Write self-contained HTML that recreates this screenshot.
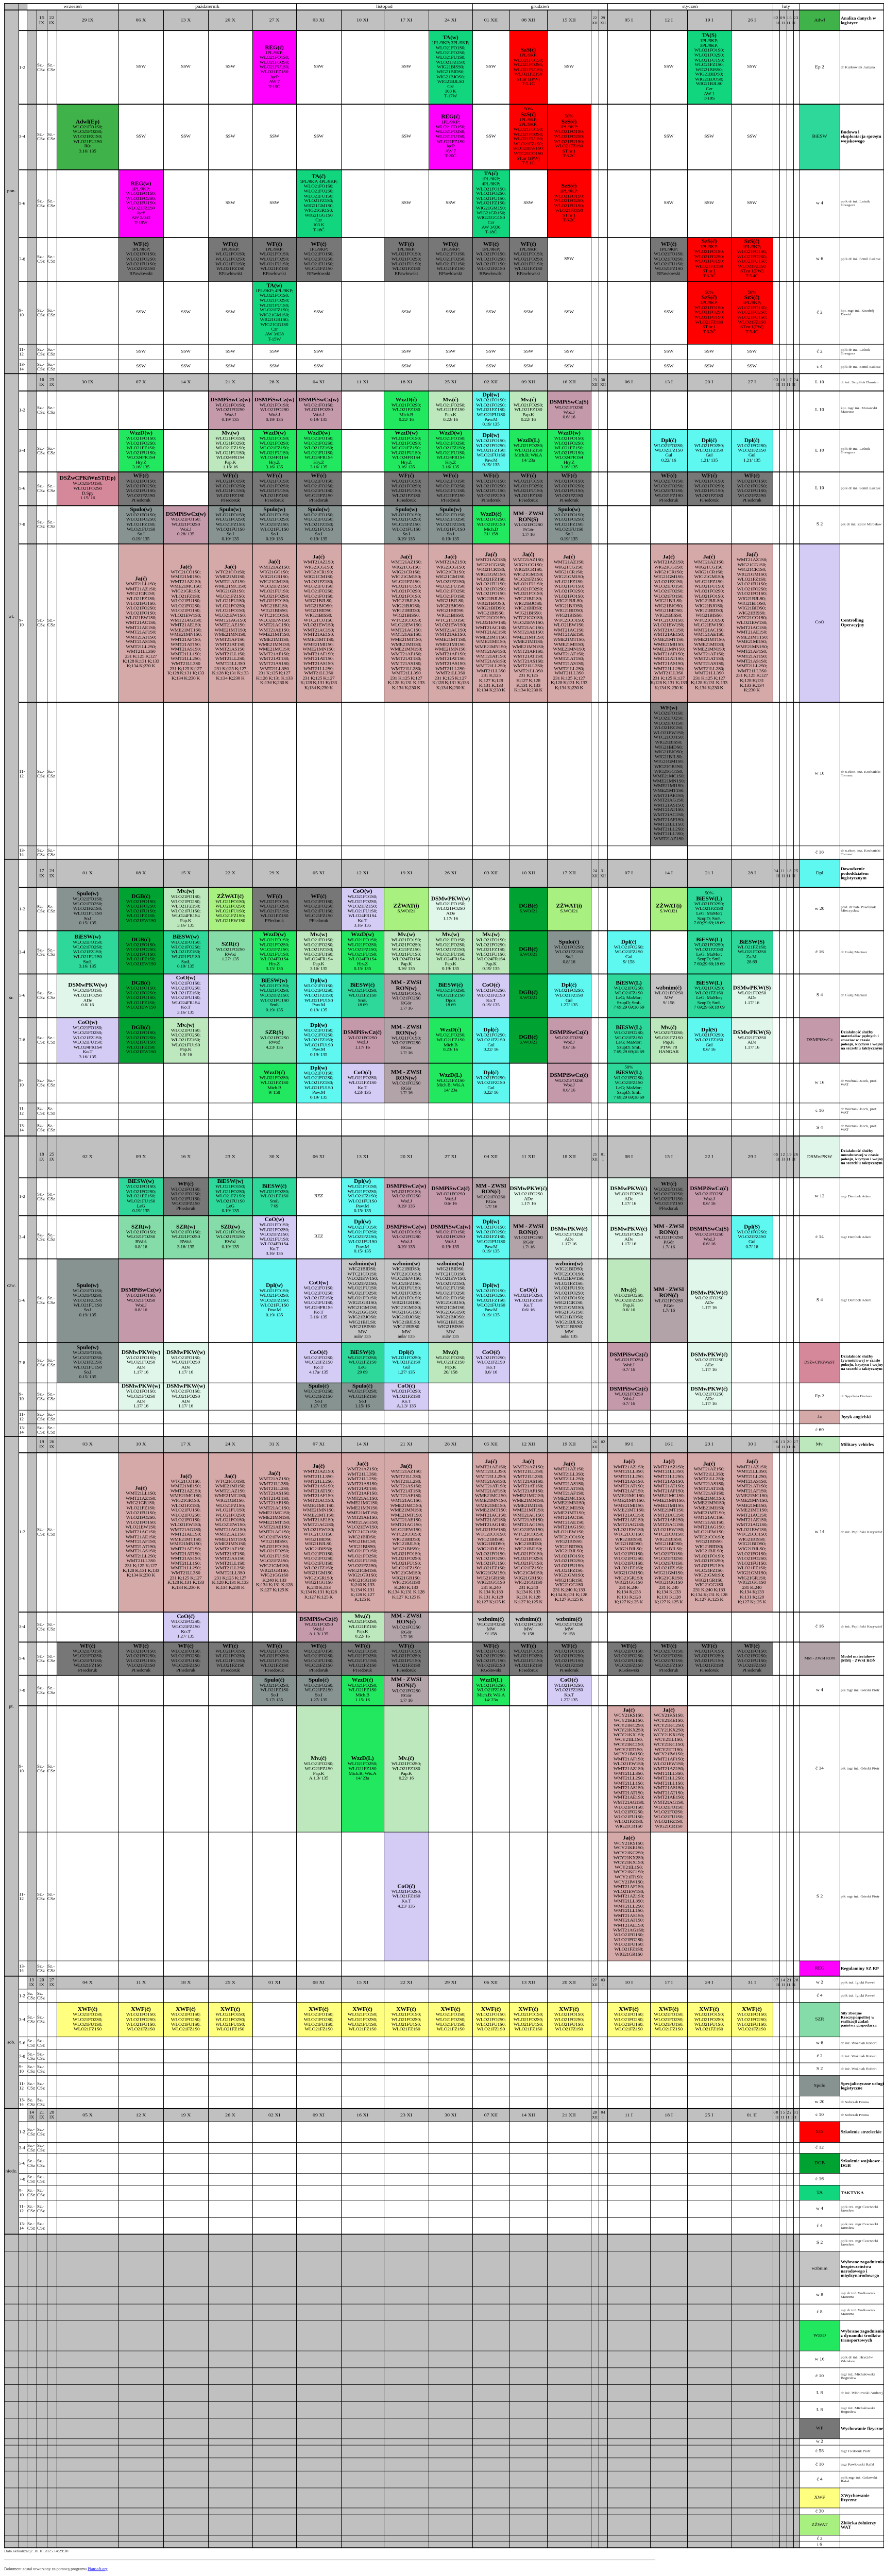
<!DOCTYPE html>
<html><head><meta charset="utf-8">
<style>
*{margin:0;padding:0;box-sizing:border-box}
html{background:#fff}
body{position:relative;width:1716px;height:5000px;overflow:hidden;font-family:"Liberation Serif","DejaVu Serif",serif;color:#000;background:#fff}
div{position:absolute}
#W{left:0;top:0;width:1716px;height:5660px;overflow:hidden;transform:scaleY(0.88339);transform-origin:0 0}
.k{display:flex;align-items:center;justify-content:center;text-align:center;font-size:9.5px;line-height:10.6px;overflow:hidden;z-index:1;letter-spacing:-0.3px}
.k b{font-size:11.5px;line-height:13px;letter-spacing:-0.2px}
.k p{white-space:nowrap}
.c2{left:110px;width:120px}.c3{left:230px;width:87px}.c4{left:317px;width:87px}.c5{left:404px;width:86px}
.c6{left:490px;width:85px}.c7{left:575px;width:87px}.c8{left:662px;width:83px}.c9{left:745px;width:87px}
.c10{left:832px;width:85px}.c11{left:917px;width:72px}.c12{left:989px;width:73px}.c13{left:1062px;width:85px}
.c16{left:1179px;width:83px}.c17{left:1262px;width:72px}.c18{left:1334px;width:85px}.c19{left:1419px;width:81px}
.reg{background:#ff00ff}.ta{background:#12d67e}.szs{background:#ff0000}.adw{background:#40b24a}.bie{background:#2ed89a}
.wf{background:#777}.ja{background:#d6a9a9}.dsm{background:#c49aaa}.dsz{background:#d4889a}.mv{background:#bde8bd}
.wzz{background:#22e860}.dpl{background:#5ff8f0}.spu{background:#879391}.mm{background:#b1a3a8}.coo{background:#d4ccf4}
.dsk{background:#e0f6ea}.szr{background:#86dca8}.dgb{background:#00a331}.zz{background:#a8f07f}.xwf{background:#ffff80}.wzb{background:#c4c4c4}
.g{background:#c0c0c0}
.vl{width:1px;background:#000;z-index:3}
.hl{height:1px;background:#000;z-index:3}
.d{display:flex;align-items:center;justify-content:center;text-align:center;font-size:10px;line-height:11px;z-index:2;overflow:hidden}
.hr{left:36px;width:74px;display:grid;grid-template-columns:16px 19px 20px 19px;font-size:9px;line-height:10px;z-index:2;align-items:center;overflow:hidden}
.hr span{display:block;text-align:left;padding-left:1px}
.la{left:1552px;width:78px;display:flex;align-items:center;justify-content:center;font-size:9.5px;z-index:1;text-align:center;overflow:hidden}
.ld{left:1630px;width:86px;display:flex;align-items:center;font-size:7.5px;line-height:8px;padding-left:2px;z-index:1;color:#222;overflow:hidden}
.ld.b{font-weight:bold;font-size:9px;line-height:10px;color:#000}
.day{left:8px;width:28px;font-size:9.5px;text-align:center;z-index:2}
</style></head><body><div id="W">

<!-- backgrounds -->
<div class="g" style="left:8px;top:7px;width:44px;height:15px"></div>
<div class="g" style="left:8px;top:22px;width:28px;height:4887px"></div>
<div class="g" style="left:52px;top:22px;width:19px;height:4320px"></div>
<div class="g" style="left:52px;top:22px;width:1500px;height:45px"></div>
<div class="g" style="left:52px;top:821px;width:1500px;height:37px"></div>
<div class="g" style="left:52px;top:1888px;width:1500px;height:61px"></div>
<div class="g" style="left:52px;top:2496px;width:1500px;height:91px"></div>
<div class="g" style="left:52px;top:3156px;width:1500px;height:35px"></div>
<div class="g" style="left:52px;top:4342px;width:1500px;height:28px"></div>
<div class="g" style="left:52px;top:4633px;width:1500px;height:28px"></div>
<div class="g" style="left:8px;top:4909px;width:1544px;height:690px"></div>

<!-- month row -->
<div class="d" style="left:52px;top:7px;width:178px;height:15px">wrzesień</div>
<div class="d" style="left:230px;top:7px;width:345px;height:15px">październik</div>
<div class="d" style="left:575px;top:7px;width:342px;height:15px">listopad</div>
<div class="d" style="left:917px;top:7px;width:262px;height:15px">grudzień</div>
<div class="d" style="left:1179px;top:7px;width:321px;height:15px">styczeń</div>
<div class="d" style="left:1500px;top:7px;width:52px;height:15px">luty</div>
<div class="hl" style="left:8px;top:7px;width:1708px;height:2px"></div>
<div class="vl" style="left:8px;top:7px;height:15px"></div>
<div class="vl" style="left:36px;top:7px;height:15px"></div>
<div class="vl" style="left:52px;top:7px;height:15px"></div>
<div class="vl" style="left:230px;top:7px;height:15px"></div>
<div class="vl" style="left:575px;top:7px;height:15px"></div>
<div class="vl" style="left:917px;top:7px;height:15px"></div>
<div class="vl" style="left:1179px;top:7px;height:15px"></div>
<div class="vl" style="left:1500px;top:7px;height:15px"></div>
<div class="vl" style="left:1552px;top:7px;height:15px"></div>
<div class="vl" style="left:1630px;top:7px;height:15px"></div>
<div class="vl" style="left:1715px;top:7px;height:15px"></div>

<!-- vertical lines -->
<div class="vl" style="left:8px;top:22px;height:5577px"></div>
<div class="vl" style="left:36px;top:22px;height:5577px"></div>
<div class="vl" style="left:52px;top:22px;height:5577px"></div>
<div class="vl" style="left:71px;top:22px;height:5577px"></div>
<div class="vl" style="left:91px;top:22px;height:5577px"></div>
<div class="vl" style="left:110px;top:22px;height:5577px"></div>
<div class="vl" style="left:230px;top:22px;height:5577px"></div>
<div class="vl" style="left:317px;top:22px;height:5577px"></div>
<div class="vl" style="left:404px;top:22px;height:5577px"></div>
<div class="vl" style="left:490px;top:22px;height:5577px"></div>
<div class="vl" style="left:575px;top:22px;height:5577px"></div>
<div class="vl" style="left:662px;top:22px;height:5577px"></div>
<div class="vl" style="left:745px;top:22px;height:5577px"></div>
<div class="vl" style="left:832px;top:22px;height:5577px"></div>
<div class="vl" style="left:917px;top:22px;height:5577px"></div>
<div class="vl" style="left:989px;top:22px;height:5577px"></div>
<div class="vl" style="left:1062px;top:22px;height:5577px"></div>
<div class="vl" style="left:1147px;top:22px;height:5577px"></div>
<div class="vl" style="left:1162px;top:22px;height:5577px"></div>
<div class="vl" style="left:1179px;top:22px;height:5577px"></div>
<div class="vl" style="left:1262px;top:22px;height:5577px"></div>
<div class="vl" style="left:1334px;top:22px;height:5577px"></div>
<div class="vl" style="left:1419px;top:22px;height:5577px"></div>
<div class="vl" style="left:1500px;top:22px;height:5577px"></div>
<div class="vl" style="left:1513px;top:22px;height:5577px"></div>
<div class="vl" style="left:1527px;top:22px;height:5577px"></div>
<div class="vl" style="left:1540px;top:22px;height:5577px"></div>
<div class="vl" style="left:1552px;top:22px;height:5577px"></div>
<div class="vl" style="left:1630px;top:22px;height:5577px"></div>
<div class="vl" style="left:1715px;top:22px;height:5577px"></div>

<!-- horizontal lines -->
<div class="hl" style="left:8px;top:21px;width:1708px;height:2px"></div>
<div class="hl" style="left:8px;top:820px;width:1708px;height:2px"></div>
<div class="hl" style="left:8px;top:1887px;width:1708px;height:2px"></div>
<div class="hl" style="left:8px;top:2495px;width:1708px;height:2px"></div>
<div class="hl" style="left:8px;top:3155px;width:1708px;height:2px"></div>
<div class="hl" style="left:8px;top:4341px;width:1708px;height:2px"></div>
<div class="hl" style="left:8px;top:4632px;width:1708px;height:2px"></div>
<div class="hl" style="left:8px;top:4908px;width:1708px;height:2px"></div>
<div class="hl" style="left:36px;top:66px;width:1680px;height:2px"></div>
<div class="hl" style="left:36px;top:228px;width:1680px;height:2px"></div>
<div class="hl" style="left:36px;top:372px;width:1680px;height:2px"></div>
<div class="hl" style="left:36px;top:521px;width:1680px;height:2px"></div>
<div class="hl" style="left:36px;top:617px;width:1680px;height:2px"></div>
<div class="hl" style="left:36px;top:756px;width:1680px"></div>
<div class="hl" style="left:36px;top:790px;width:1680px"></div>
<div class="hl" style="left:36px;top:858px;width:1680px;height:2px"></div>
<div class="hl" style="left:36px;top:943px;width:1680px;height:2px"></div>
<div class="hl" style="left:36px;top:1036px;width:1680px;height:2px"></div>
<div class="hl" style="left:36px;top:1110px;width:1680px;height:2px"></div>
<div class="hl" style="left:36px;top:1194px;width:1680px;height:2px"></div>
<div class="hl" style="left:36px;top:1542px;width:1680px;height:2px"></div>
<div class="hl" style="left:36px;top:1858px;width:1680px"></div>
<div class="hl" style="left:36px;top:1949px;width:1680px;height:2px"></div>
<div class="hl" style="left:36px;top:2044px;width:1680px;height:2px"></div>
<div class="hl" style="left:36px;top:2139px;width:1680px;height:2px"></div>
<div class="hl" style="left:36px;top:2235px;width:1680px;height:2px"></div>
<div class="hl" style="left:36px;top:2335px;width:1680px;height:2px"></div>
<div class="hl" style="left:36px;top:2423px;width:1680px"></div>
<div class="hl" style="left:36px;top:2459px;width:1680px"></div>
<div class="hl" style="left:36px;top:2587px;width:1680px;height:2px"></div>
<div class="hl" style="left:36px;top:2670px;width:1680px;height:2px"></div>
<div class="hl" style="left:36px;top:2765px;width:1680px;height:2px"></div>
<div class="hl" style="left:36px;top:2949px;width:1680px;height:2px"></div>
<div class="hl" style="left:36px;top:3038px;width:1680px"></div>
<div class="hl" style="left:36px;top:3098px;width:1680px"></div>
<div class="hl" style="left:36px;top:3128px;width:1680px"></div>
<div class="hl" style="left:36px;top:3191px;width:1680px;height:2px"></div>
<div class="hl" style="left:36px;top:3541px;width:1680px;height:2px"></div>
<div class="hl" style="left:36px;top:3607px;width:1680px;height:2px"></div>
<div class="hl" style="left:36px;top:3680px;width:1680px;height:2px"></div>
<div class="hl" style="left:36px;top:3747px;width:1680px;height:2px"></div>
<div class="hl" style="left:36px;top:4025px;width:1680px"></div>
<div class="hl" style="left:36px;top:4308px;width:1680px"></div>
<div class="hl" style="left:36px;top:4370px;width:1680px"></div>
<div class="hl" style="left:36px;top:4399px;width:1680px"></div>
<div class="hl" style="left:36px;top:4475px;width:1680px"></div>
<div class="hl" style="left:36px;top:4503px;width:1680px"></div>
<div class="hl" style="left:36px;top:4532px;width:1680px"></div>
<div class="hl" style="left:36px;top:4560px;width:1680px"></div>
<div class="hl" style="left:36px;top:4605px;width:1680px"></div>
<div class="hl" style="left:36px;top:4661px;width:1680px"></div>
<div class="hl" style="left:36px;top:4707px;width:1680px"></div>
<div class="hl" style="left:36px;top:4731px;width:1680px"></div>
<div class="hl" style="left:36px;top:4775px;width:1680px"></div>
<div class="hl" style="left:36px;top:4801px;width:1680px"></div>
<div class="hl" style="left:36px;top:4834px;width:1680px"></div>
<div class="hl" style="left:36px;top:4872px;width:1680px"></div>
<div class="hl" style="left:8px;top:4946px;width:1708px"></div>
<div class="hl" style="left:8px;top:5024px;width:1708px"></div>
<div class="hl" style="left:8px;top:5062px;width:1708px"></div>
<div class="hl" style="left:8px;top:5098px;width:1708px"></div>
<div class="hl" style="left:8px;top:5165px;width:1708px"></div>
<div class="hl" style="left:8px;top:5202px;width:1708px"></div>
<div class="hl" style="left:8px;top:5239px;width:1708px"></div>
<div class="hl" style="left:8px;top:5276px;width:1708px"></div>
<div class="hl" style="left:8px;top:5313px;width:1708px"></div>
<div class="hl" style="left:8px;top:5358px;width:1708px"></div>
<div class="hl" style="left:8px;top:5372px;width:1708px"></div>
<div class="hl" style="left:8px;top:5400px;width:1708px"></div>
<div class="hl" style="left:8px;top:5429px;width:1708px"></div>
<div class="hl" style="left:8px;top:5466px;width:1708px"></div>
<div class="hl" style="left:8px;top:5510px;width:1708px"></div>
<div class="hl" style="left:8px;top:5525px;width:1708px"></div>
<div class="hl" style="left:8px;top:5570px;width:1708px"></div>
<div class="hl" style="left:8px;top:5583px;width:1708px"></div>
<div class="hl" style="left:8px;top:5597px;width:1708px;height:2px"></div>

<!-- day labels -->
<div class="day" style="top:415px">pon.</div>
<div class="day" style="top:1350px">wt.</div>
<div class="day" style="top:2188px">śr.</div>
<div class="day" style="top:2820px">czw.</div>
<div class="day" style="top:3745px">pt.</div>
<div class="day" style="top:4483px">sob.</div>
<div class="day" style="top:4766px">niedz.</div>

<!-- date headers -->
<div class="d" style="left:71px;top:22px;width:20px;height:45px">15<br>IX</div><div class="d" style="left:91px;top:22px;width:19px;height:45px">22<br>IX</div>
<div class="d c2" style="top:22px;height:45px">29 IX</div><div class="d c3" style="top:22px;height:45px">06 X</div><div class="d c4" style="top:22px;height:45px">13 X</div><div class="d c5" style="top:22px;height:45px">20 X</div><div class="d c6" style="top:22px;height:45px">27 X</div><div class="d c7" style="top:22px;height:45px">03 XI</div><div class="d c8" style="top:22px;height:45px">10 XI</div><div class="d c9" style="top:22px;height:45px">17 XI</div><div class="d c10" style="top:22px;height:45px">24 XI</div><div class="d c11" style="top:22px;height:45px">01 XII</div><div class="d c12" style="top:22px;height:45px">08 XII</div><div class="d c13" style="top:22px;height:45px">15 XII</div>
<div class="d" style="left:1147px;top:22px;width:15px;height:45px;font-size:8px">22<br>XII</div><div class="d" style="left:1162px;top:22px;width:17px;height:45px;font-size:8px">29<br>XII</div>
<div class="d c16" style="top:22px;height:45px">05 I</div><div class="d c17" style="top:22px;height:45px">12 I</div><div class="d c18" style="top:22px;height:45px">19 I</div><div class="d c19" style="top:22px;height:45px">26 I</div>
<div class="d" style="left:1500px;top:22px;width:52px;height:45px;font-size:8px;letter-spacing:1px">02 09 16 23<br>II II II II</div>

<div class="d" style="left:71px;top:821px;width:20px;height:37px;font-size:9px">16<br>IX</div><div class="d" style="left:91px;top:821px;width:19px;height:37px;font-size:9px">23<br>IX</div>
<div class="d c2" style="top:821px;height:37px">30 IX</div><div class="d c3" style="top:821px;height:37px">07 X</div><div class="d c4" style="top:821px;height:37px">14 X</div><div class="d c5" style="top:821px;height:37px">21 X</div><div class="d c6" style="top:821px;height:37px">28 X</div><div class="d c7" style="top:821px;height:37px">04 XI</div><div class="d c8" style="top:821px;height:37px">11 XI</div><div class="d c9" style="top:821px;height:37px">18 XI</div><div class="d c10" style="top:821px;height:37px">25 XI</div><div class="d c11" style="top:821px;height:37px">02 XII</div><div class="d c12" style="top:821px;height:37px">09 XII</div><div class="d c13" style="top:821px;height:37px">16 XII</div>
<div class="d" style="left:1147px;top:821px;width:15px;height:37px;font-size:8px">23<br>XII</div><div class="d" style="left:1162px;top:821px;width:17px;height:37px;font-size:8px">30<br>XII</div>
<div class="d c16" style="top:821px;height:37px">06 I</div><div class="d c17" style="top:821px;height:37px">13 I</div><div class="d c18" style="top:821px;height:37px">20 I</div><div class="d c19" style="top:821px;height:37px">27 I</div>
<div class="d" style="left:1500px;top:821px;width:52px;height:37px;font-size:8px;letter-spacing:1px">03 10 17 24<br>II II II II</div>

<div class="d" style="left:71px;top:1888px;width:20px;height:61px;font-size:9px">17<br>IX</div><div class="d" style="left:91px;top:1888px;width:19px;height:61px;font-size:9px">24<br>IX</div>
<div class="d c2" style="top:1888px;height:61px">01 X</div><div class="d c3" style="top:1888px;height:61px">08 X</div><div class="d c4" style="top:1888px;height:61px">15 X</div><div class="d c5" style="top:1888px;height:61px">22 X</div><div class="d c6" style="top:1888px;height:61px">29 X</div><div class="d c7" style="top:1888px;height:61px">05 XI</div><div class="d c8" style="top:1888px;height:61px">12 XI</div><div class="d c9" style="top:1888px;height:61px">19 XI</div><div class="d c10" style="top:1888px;height:61px">26 XI</div><div class="d c11" style="top:1888px;height:61px">03 XII</div><div class="d c12" style="top:1888px;height:61px">10 XII</div><div class="d c13" style="top:1888px;height:61px">17 XII</div>
<div class="d" style="left:1147px;top:1888px;width:15px;height:61px;font-size:8px">24<br>XII</div><div class="d" style="left:1162px;top:1888px;width:17px;height:61px;font-size:8px">31<br>XII</div>
<div class="d c16" style="top:1888px;height:61px">07 I</div><div class="d c17" style="top:1888px;height:61px">14 I</div><div class="d c18" style="top:1888px;height:61px">21 I</div><div class="d c19" style="top:1888px;height:61px">28 I</div>
<div class="d" style="left:1500px;top:1888px;width:52px;height:61px;font-size:8px;letter-spacing:1px">04 11 18 25<br>II II II II</div>

<div class="d" style="left:71px;top:2496px;width:20px;height:91px;font-size:9px">18<br>IX</div><div class="d" style="left:91px;top:2496px;width:19px;height:91px;font-size:9px">25<br>IX</div>
<div class="d c2" style="top:2496px;height:91px">02 X</div><div class="d c3" style="top:2496px;height:91px">09 X</div><div class="d c4" style="top:2496px;height:91px">16 X</div><div class="d c5" style="top:2496px;height:91px">23 X</div><div class="d c6" style="top:2496px;height:91px">30 X</div><div class="d c7" style="top:2496px;height:91px">06 XI</div><div class="d c8" style="top:2496px;height:91px">13 XI</div><div class="d c9" style="top:2496px;height:91px">20 XI</div><div class="d c10" style="top:2496px;height:91px">27 XI</div><div class="d c11" style="top:2496px;height:91px">04 XII</div><div class="d c12" style="top:2496px;height:91px">11 XII</div><div class="d c13" style="top:2496px;height:91px">18 XII</div>
<div class="d" style="left:1147px;top:2496px;width:15px;height:91px;font-size:8px">25<br>XII</div><div class="d" style="left:1162px;top:2496px;width:17px;height:91px;font-size:8px">01<br>I</div>
<div class="d c16" style="top:2496px;height:91px">08 I</div><div class="d c17" style="top:2496px;height:91px">15 I</div><div class="d c18" style="top:2496px;height:91px">22 I</div><div class="d c19" style="top:2496px;height:91px">29 I</div>
<div class="d" style="left:1500px;top:2496px;width:52px;height:91px;font-size:8px;letter-spacing:1px">05 12 19 26<br>II II II II</div>

<div class="d" style="left:71px;top:3156px;width:20px;height:35px;font-size:9px">19<br>IX</div><div class="d" style="left:91px;top:3156px;width:19px;height:35px;font-size:9px">26<br>IX</div>
<div class="d c2" style="top:3156px;height:35px">03 X</div><div class="d c3" style="top:3156px;height:35px">10 X</div><div class="d c4" style="top:3156px;height:35px">17 X</div><div class="d c5" style="top:3156px;height:35px">24 X</div><div class="d c6" style="top:3156px;height:35px">31 X</div><div class="d c7" style="top:3156px;height:35px">07 XI</div><div class="d c8" style="top:3156px;height:35px">14 XI</div><div class="d c9" style="top:3156px;height:35px">21 XI</div><div class="d c10" style="top:3156px;height:35px">28 XI</div><div class="d c11" style="top:3156px;height:35px">05 XII</div><div class="d c12" style="top:3156px;height:35px">12 XII</div><div class="d c13" style="top:3156px;height:35px">19 XII</div>
<div class="d" style="left:1147px;top:3156px;width:15px;height:35px;font-size:8px">26<br>XII</div><div class="d" style="left:1162px;top:3156px;width:17px;height:35px;font-size:8px">02<br>I</div>
<div class="d c16" style="top:3156px;height:35px">09 I</div><div class="d c17" style="top:3156px;height:35px">16 I</div><div class="d c18" style="top:3156px;height:35px">23 I</div><div class="d c19" style="top:3156px;height:35px">30 I</div>
<div class="d" style="left:1500px;top:3156px;width:52px;height:35px;font-size:8px;letter-spacing:1px">06 13 20 27<br>II II II II</div>

<div class="d" style="left:52px;top:4342px;width:19px;height:28px;font-size:9px">13<br>IX</div><div class="d" style="left:71px;top:4342px;width:20px;height:28px;font-size:9px">20<br>IX</div><div class="d" style="left:91px;top:4342px;width:19px;height:28px;font-size:9px">27<br>IX</div>
<div class="d c2" style="top:4342px;height:28px">04 X</div><div class="d c3" style="top:4342px;height:28px">11 X</div><div class="d c4" style="top:4342px;height:28px">18 X</div><div class="d c5" style="top:4342px;height:28px">25 X</div><div class="d c6" style="top:4342px;height:28px">01 XI</div><div class="d c7" style="top:4342px;height:28px">08 XI</div><div class="d c8" style="top:4342px;height:28px">15 XI</div><div class="d c9" style="top:4342px;height:28px">22 XI</div><div class="d c10" style="top:4342px;height:28px">29 XI</div><div class="d c11" style="top:4342px;height:28px">06 XII</div><div class="d c12" style="top:4342px;height:28px">13 XII</div><div class="d c13" style="top:4342px;height:28px">20 XII</div>
<div class="d" style="left:1147px;top:4342px;width:15px;height:28px;font-size:8px">27<br>XII</div><div class="d" style="left:1162px;top:4342px;width:17px;height:28px;font-size:8px">03<br>I</div>
<div class="d c16" style="top:4342px;height:28px">10 I</div><div class="d c17" style="top:4342px;height:28px">17 I</div><div class="d c18" style="top:4342px;height:28px">24 I</div><div class="d c19" style="top:4342px;height:28px">31 I</div>
<div class="d" style="left:1500px;top:4342px;width:52px;height:28px;font-size:8px;letter-spacing:1px">07 14 21 28<br>II II II II</div>

<div class="d" style="left:52px;top:4633px;width:19px;height:28px;font-size:9px">14<br>IX</div><div class="d" style="left:71px;top:4633px;width:20px;height:28px;font-size:9px">21<br>IX</div><div class="d" style="left:91px;top:4633px;width:19px;height:28px;font-size:9px">28<br>IX</div>
<div class="d c2" style="top:4633px;height:28px">05 X</div><div class="d c3" style="top:4633px;height:28px">12 X</div><div class="d c4" style="top:4633px;height:28px">19 X</div><div class="d c5" style="top:4633px;height:28px">26 X</div><div class="d c6" style="top:4633px;height:28px">02 XI</div><div class="d c7" style="top:4633px;height:28px">09 XI</div><div class="d c8" style="top:4633px;height:28px">16 XI</div><div class="d c9" style="top:4633px;height:28px">23 XI</div><div class="d c10" style="top:4633px;height:28px">30 XI</div><div class="d c11" style="top:4633px;height:28px">07 XII</div><div class="d c12" style="top:4633px;height:28px">14 XII</div><div class="d c13" style="top:4633px;height:28px">21 XII</div>
<div class="d" style="left:1147px;top:4633px;width:15px;height:28px;font-size:8px">28<br>XII</div><div class="d" style="left:1162px;top:4633px;width:17px;height:28px;font-size:8px">04<br>I</div>
<div class="d c16" style="top:4633px;height:28px">11 I</div><div class="d c17" style="top:4633px;height:28px">18 I</div><div class="d c18" style="top:4633px;height:28px">25 I</div><div class="d c19" style="top:4633px;height:28px">01 II</div>
<div class="d" style="left:1500px;top:4633px;width:52px;height:28px;font-size:8px;letter-spacing:1px">08 15 22 01<br>II II II III</div>

<!-- hour labels -->
<div class="hr" style="top:67px;height:161px"><span>1-2</span><span></span><span>Sz.-<br>CSz</span><span>Sz.-<br>CSz</span></div>
<div class="hr" style="top:228px;height:144px"><span>3-4</span><span></span><span>Sz.-<br>CSz</span><span>Sz.-<br>CSz</span></div>
<div class="hr" style="top:372px;height:149px"><span>5-6</span><span></span><span>Sz.-<br>CSz</span><span>Sz.-<br>CSz</span></div>
<div class="hr" style="top:521px;height:96px"><span>7-8</span><span></span><span>Sz.-<br>CSz</span><span>Sz.-<br>CSz</span></div>
<div class="hr" style="top:617px;height:139px"><span>9-<br>10</span><span></span><span>Sz.-<br>CSz</span><span>Sz.-<br>CSz</span></div>
<div class="hr" style="top:756px;height:34px"><span>11-<br>12</span><span></span><span>Sz.-<br>CSz</span><span>Sz.-<br>CSz</span></div>
<div class="hr" style="top:790px;height:31px"><span>13-<br>14</span><span></span><span>Sz.-<br>CSz</span><span>Sz.-<br>CSz</span></div>
<div class="hr" style="top:858px;height:85px"><span>1-2</span><span></span><span>Sz.-<br>CSz</span><span>Sz.-<br>CSz</span></div>
<div class="hr" style="top:943px;height:93px"><span>3-4</span><span></span><span>Sz.-<br>CSz</span><span>Sz.-<br>CSz</span></div>
<div class="hr" style="top:1036px;height:74px"><span>5-6</span><span></span><span>Sz.-<br>CSz</span><span>Sz.-<br>CSz</span></div>
<div class="hr" style="top:1110px;height:84px"><span>7-8</span><span></span><span>Sz.-<br>CSz</span><span>Sz.-<br>CSz</span></div>
<div class="hr" style="top:1194px;height:348px"><span>9-<br>10</span><span></span><span>Sz.-<br>CSz</span><span>Sz.-<br>CSz</span></div>
<div class="hr" style="top:1542px;height:316px"><span>11-<br>12</span><span></span><span>Sz.-<br>CSz</span><span>Sz.-<br>CSz</span></div>
<div class="hr" style="top:1858px;height:30px"><span>13-<br>14</span><span></span><span>Sz.-<br>CSz</span><span>Sz.-<br>CSz</span></div>
<div class="hr" style="top:1949px;height:95px"><span>1-2</span><span></span><span>Sz.-<br>CSz</span><span>Sz.-<br>CSz</span></div>
<div class="hr" style="top:2044px;height:95px"><span>3-4</span><span></span><span>Sz.-<br>CSz</span><span>Sz.-<br>CSz</span></div>
<div class="hr" style="top:2139px;height:96px"><span>5-6</span><span></span><span>Sz.-<br>CSz</span><span>Sz.-<br>CSz</span></div>
<div class="hr" style="top:2235px;height:100px"><span>7-8</span><span></span><span>Sz.-<br>CSz</span><span>Sz.-<br>CSz</span></div>
<div class="hr" style="top:2335px;height:88px"><span>9-<br>10</span><span></span><span>Sz.-<br>CSz</span><span>Sz.-<br>CSz</span></div>
<div class="hr" style="top:2423px;height:36px"><span>11-<br>12</span><span></span><span>Sz.-<br>CSz</span><span>Sz.-<br>CSz</span></div>
<div class="hr" style="top:2459px;height:37px"><span>13-<br>14</span><span></span><span>Sz.-<br>CSz</span><span>Sz.-<br>CSz</span></div>
<div class="hr" style="top:2587px;height:83px"><span>1-2</span><span></span><span>Sz.-<br>CSz</span><span>Sz.-<br>CSz</span></div>
<div class="hr" style="top:2670px;height:95px"><span>3-4</span><span></span><span>Sz.-<br>CSz</span><span>Sz.-<br>CSz</span></div>
<div class="hr" style="top:2765px;height:184px"><span>5-6</span><span></span><span>Sz.-<br>CSz</span><span>Sz.-<br>CSz</span></div>
<div class="hr" style="top:2949px;height:89px"><span>7-8</span><span></span><span>Sz.-<br>CSz</span><span>Sz.-<br>CSz</span></div>
<div class="hr" style="top:3038px;height:60px"><span>9-<br>10</span><span></span><span>Sz.-<br>CSz</span><span>Sz.-<br>CSz</span></div>
<div class="hr" style="top:3098px;height:30px"><span>11-<br>12</span><span></span><span>Sz.-<br>CSz</span><span>Sz.-<br>CSz</span></div>
<div class="hr" style="top:3128px;height:28px"><span>13-<br>14</span><span></span><span>Sz.-<br>CSz</span><span>Sz.-<br>CSz</span></div>
<div class="hr" style="top:3191px;height:350px"><span>1-2</span><span></span><span>Sz.-<br>CSz</span><span>Sz.-<br>CSz</span></div>
<div class="hr" style="top:3541px;height:66px"><span>3-4</span><span></span><span>Sz.-<br>CSz</span><span>Sz.-<br>CSz</span></div>
<div class="hr" style="top:3607px;height:73px"><span>5-6</span><span></span><span>Sz.-<br>CSz</span><span>Sz.-<br>CSz</span></div>
<div class="hr" style="top:3680px;height:67px"><span>7-8</span><span></span><span>Sz.-<br>CSz</span><span>Sz.-<br>CSz</span></div>
<div class="hr" style="top:3747px;height:278px"><span>9-<br>10</span><span></span><span>Sz.-<br>CSz</span><span>Sz.-<br>CSz</span></div>
<div class="hr" style="top:4025px;height:283px"><span>11-<br>12</span><span></span><span>Sz.-<br>CSz</span><span>Sz.-<br>CSz</span></div>
<div class="hr" style="top:4308px;height:34px"><span>13-<br>14</span><span></span><span>Sz.-<br>CSz</span><span>Sz.-<br>CSz</span></div>
<div class="hr" style="top:4370px;height:29px"><span>1-2</span><span>Sz.<br>CSz</span><span>Sz.<br>CSz</span><span></span></div>
<div class="hr" style="top:4399px;height:76px"><span>3-4</span><span>Sz.-<br>CSz</span><span>Sz.-<br>CSz</span><span></span></div>
<div class="hr" style="top:4475px;height:28px"><span>5-6</span><span>Sz.-<br>CSz</span><span>Sz.-<br>CSz</span><span></span></div>
<div class="hr" style="top:4503px;height:29px"><span>7-8</span><span>Sz.-<br>CSz</span><span>Sz.-<br>CSz</span><span></span></div>
<div class="hr" style="top:4532px;height:28px"><span>9-<br>10</span><span>Sz.-<br>CSz</span><span>Sz.-<br>CSz</span><span></span></div>
<div class="hr" style="top:4560px;height:45px"><span>11-<br>12</span><span>Sz.-<br>CSz</span><span>Sz.-<br>CSz</span><span></span></div>
<div class="hr" style="top:4605px;height:28px"><span>13-<br>14</span><span>Sz.<br>CSz</span><span>Sz.<br>CSz</span><span></span></div>
<div class="hr" style="top:4661px;height:46px"><span>1-2</span><span>Sz.-<br>CSz</span><span>Sz.-<br>CSz</span><span></span></div>
<div class="hr" style="top:4707px;height:24px"><span>3-4</span><span>Sz.-<br>CSz</span><span>Sz.-<br>CSz</span><span></span></div>
<div class="hr" style="top:4731px;height:44px"><span>5-6</span><span>Sz.-<br>CSz</span><span>Sz.-<br>CSz</span><span></span></div>
<div class="hr" style="top:4775px;height:26px"><span>7-8</span><span>Sz.-<br>CSz</span><span>Sz.-<br>CSz</span><span></span></div>
<div class="hr" style="top:4801px;height:33px"><span>9-<br>10</span><span>Sz.-<br>CSz</span><span>Sz.-<br>CSz</span><span></span></div>
<div class="hr" style="top:4834px;height:38px"><span>11-<br>12</span><span>Sz.-<br>CSz</span><span>Sz.-<br>CSz</span><span></span></div>
<div class="hr" style="top:4872px;height:37px"><span>13-<br>14</span><span>Sz.-<br>CSz</span><span>Sz.-<br>CSz</span><span></span></div>

<!-- ===== PON ===== -->
<div class="k c3" style="top:67px;height:161px"><p>SSW</p></div>
<div class="k c4" style="top:67px;height:161px"><p>SSW</p></div>
<div class="k c5" style="top:67px;height:161px"><p>SSW</p></div>
<div class="k c6 reg" style="top:67px;height:161px"><p><b>REG(ć)</b><br>1PL/9KP;<br>WLO21FO1S0;<br>WLO21FO2S0;<br>WLO21FU1S0;<br>WLO21FZ1S0<br>JęcP<br>AW 7<br>T-19Ć</p></div>
<div class="k c7" style="top:67px;height:161px"><p>SSW</p></div>
<div class="k c9" style="top:67px;height:161px"><p>SSW</p></div>
<div class="k c10 ta" style="top:67px;height:161px"><p><b>TA(w)</b><br>1PL/9KP; 3PL/9KP;<br>WLO21FO1S0;<br>WLO21FO2S0;<br>WLO21FU1S0;<br>WLO21FZ1S0;<br>WIG21BISS0;<br>WIG21BIDS0;<br>WIG21BJOS0;<br>WIG21BJLS0<br>Czr<br>103 K<br>T-17W</p></div>
<div class="k c11" style="top:67px;height:161px"><p>SSW</p></div>
<div class="k c12 szs" style="top:67px;height:161px"><p><b>SzS(ć)</b><br>1PL/9KP;<br>WLO21FO1S0;<br>WLO21FO2S0;<br>WLO21FU1S0;<br>WLO21FZ1S0<br>ST.nr 1(PW)<br>T-5.1Ć</p></div>
<div class="k c13" style="top:67px;height:161px"><p>SSW</p></div>
<div class="k c17" style="top:67px;height:161px"><p>SSW</p></div>
<div class="k c18 ta" style="top:67px;height:161px"><p><b>TA(S)</b><br>1PL/9KP;<br>3PL/9KP;<br>WLO21FO1S0;<br>WLO21FO2S0;<br>WLO21FU1S0;<br>WLO21FZ1S0;<br>WIG21BISS0;<br>WIG21BIDS0;<br>WIG21BJOS0;<br>WIG21BJLS0<br>Czr<br>AW 1<br>T-19S</p></div>
<div class="k c19" style="top:67px;height:161px"><p>SSW</p></div>

<div class="k c2 adw" style="top:228px;height:144px"><p><b>Adwl(Ep)</b><br>WLO21FO1S0;<br>WLO21FO2S0;<br>WLO21FZ1S0;<br>WLO21FU1S0<br>JKu<br>3.16/ 135</p></div>
<div class="k c3" style="top:228px;height:144px"><p>SSW</p></div>
<div class="k c4" style="top:228px;height:144px"><p>SSW</p></div>
<div class="k c5" style="top:228px;height:144px"><p>SSW</p></div>
<div class="k c6" style="top:228px;height:144px"><p>SSW</p></div>
<div class="k c7" style="top:228px;height:144px"><p>SSW</p></div>
<div class="k c9" style="top:228px;height:144px"><p>SSW</p></div>
<div class="k c10 reg" style="top:228px;height:144px"><p><b>REG(ć)</b><br>1PL/9KP;<br>WLO21FO1S0;<br>WLO21FO2S0;<br>WLO21FU1S0;<br>WLO21FZ1S0<br>JęcP<br>AW 7<br>T-20Ć</p></div>
<div class="k c11" style="top:228px;height:144px"><p>SSW</p></div>
<div class="k c12 szs" style="top:228px;height:144px"><p>50%<br><b>SzS(ć)</b><br>1PL/9KP;<br>2PL/9KP;<br>WLO21FO1S0;<br>WLO21FO2S0;<br>WLO21FU1S0;<br>WLO21FZ1S0;<br>WLO21EW1S0;<br>WTC21CO1S0<br>ST.nr 1(PW)<br>T-5.1Ć</p></div>
<div class="k c13 szs" style="top:228px;height:144px"><p>50%<br><b>SzS(ć)</b><br>1PL/9KP;<br>WLO21FO1S0;<br>WLO21FO2S0;<br>WLO21FU1S0;<br>WLO21FZ1S0<br>ST.nr 1<br>T-5.2Ć</p></div>
<div class="k c17" style="top:228px;height:144px"><p>SSW</p></div>
<div class="k c18" style="top:228px;height:144px"><p>SSW</p></div>
<div class="k c19" style="top:228px;height:144px"><p>SSW</p></div>

<div class="k c3 reg" style="top:372px;height:149px"><p><b>REG(w)</b><br>1PL/9KP;<br>WLO21FO1S0;<br>WLO21FO2S0;<br>WLO21FU1S0;<br>WLO21FZ1S0<br>JęcP<br>AW 3/043<br>T-18W</p></div>
<div class="k c5" style="top:372px;height:149px"><p>SSW</p></div>
<div class="k c6" style="top:372px;height:149px"><p>SSW</p></div>
<div class="k c7 ta" style="top:372px;height:149px"><p><b>TA(ć)</b><br>1PL/9KP; 4PL/9KP;<br>WLO21FO1S0;<br>WLO21FO2S0;<br>WLO21FU1S0;<br>WLO21FZ1S0;<br>WIG21GM1S0;<br>WIG21GR1S0;<br>WIG21GG1S0<br>Czr<br>103 K<br>T-18Ć</p></div>
<div class="k c9" style="top:372px;height:149px"><p>SSW</p></div>
<div class="k c10" style="top:372px;height:149px"><p>SSW</p></div>
<div class="k c11 ta" style="top:372px;height:149px"><p><b>TA(ć)</b><br>1PL/9KP;<br>4PL/9KP;<br>WLO21FO1S0;<br>WLO21FO2S0;<br>WLO21FU1S0;<br>WLO21FZ1S0;<br>WIG21GM1S0;<br>WIG21GR1S0;<br>WIG21GG1S0<br>Czr<br>AW 3/038<br>T-18Ć</p></div>
<div class="k c12" style="top:372px;height:149px"><p>SSW</p></div>
<div class="k c13 szs" style="top:372px;height:149px"><p><b>SzS(ć)</b><br>1PL/9KP;<br>WLO21FO1S0;<br>WLO21FO2S0;<br>WLO21FU1S0;<br>WLO21FZ1S0<br>ST.nr 1<br>T-5.2Ć</p></div>
<div class="k c17" style="top:372px;height:149px"><p>SSW</p></div>
<div class="k c18" style="top:372px;height:149px"><p>SSW</p></div>
<div class="k c19" style="top:372px;height:149px"><p>SSW</p></div>

<div class="k c3 wf" style="top:521px;height:96px"><p><b>WF(ć)</b><br>1PL/9KP;<br>WLO21FO1S0;<br>WLO21FO2S0;<br>WLO21FU1S0;<br>WLO21FZ1S0<br>RPawłowski</p></div>
<div class="k c5 wf" style="top:521px;height:96px"><p><b>WF(ć)</b><br>1PL/9KP;<br>WLO21FO1S0;<br>WLO21FO2S0;<br>WLO21FU1S0;<br>WLO21FZ1S0<br>RPawłowski</p></div>
<div class="k c6 wf" style="top:521px;height:96px"><p><b>WF(ć)</b><br>1PL/9KP;<br>WLO21FO1S0;<br>WLO21FO2S0;<br>WLO21FU1S0;<br>WLO21FZ1S0<br>RPawłowski</p></div>
<div class="k c7 wf" style="top:521px;height:96px"><p><b>WF(ć)</b><br>1PL/9KP;<br>WLO21FO1S0;<br>WLO21FO2S0;<br>WLO21FU1S0;<br>WLO21FZ1S0<br>RPawłowski</p></div>
<div class="k c9 wf" style="top:521px;height:96px"><p><b>WF(ć)</b><br>1PL/9KP;<br>WLO21FO1S0;<br>WLO21FO2S0;<br>WLO21FU1S0;<br>WLO21FZ1S0<br>RPawłowski</p></div>
<div class="k c10 wf" style="top:521px;height:96px"><p><b>WF(ć)</b><br>1PL/9KP;<br>WLO21FO1S0;<br>WLO21FO2S0;<br>WLO21FU1S0;<br>WLO21FZ1S0<br>RPawłowski</p></div>
<div class="k c11 wf" style="top:521px;height:96px"><p><b>WF(ć)</b><br>1PL/9KP;<br>WLO21FO1S0;<br>WLO21FO2S0;<br>WLO21FU1S0;<br>WLO21FZ1S0<br>RPawłowski</p></div>
<div class="k c12 wf" style="top:521px;height:96px"><p><b>WF(ć)</b><br>1PL/9KP;<br>WLO21FO1S0;<br>WLO21FO2S0;<br>WLO21FU1S0;<br>WLO21FZ1S0<br>RPawłowski</p></div>
<div class="k c13" style="top:521px;height:96px"><p>SSW</p></div>
<div class="k c17 wf" style="top:521px;height:96px"><p><b>WF(ć)</b><br>1PL/9KP;<br>WLO21FO1S0;<br>WLO21FO2S0;<br>WLO21FU1S0;<br>WLO21FZ1S0<br>RPawłowski</p></div>
<div class="k c18 szs" style="top:521px;height:96px"><p><b>SzS(ć)</b><br>1PL/9KP;<br>WLO21FO1S0;<br>WLO21FO2S0;<br>WLO21FU1S0;<br>WLO21FZ1S0<br>ST.nr 1<br>T-5.3Ć</p></div>
<div class="k c19 szs" style="top:521px;height:96px"><p><b>SzS(ć)</b><br>1PL/9KP;<br>WLO21FO1S0;<br>WLO21FO2S0;<br>WLO21FU1S0;<br>WLO21FZ1S0<br>ST.nr 1(PW)<br>T-5.4Ć</p></div>

<div class="k c3" style="top:617px;height:139px"><p>SSW</p></div>
<div class="k c4" style="top:617px;height:139px"><p>SSW</p></div>
<div class="k c5" style="top:617px;height:139px"><p>SSW</p></div>
<div class="k c6 ta" style="top:617px;height:139px"><p><b>TA(w)</b><br>1PL/9KP; 4PL/9KP;<br>WLO21FO1S0;<br>WLO21FO2S0;<br>WLO21FU1S0;<br>WLO21FZ1S0;<br>WIG21GM1S0;<br>WIG21GR1S0;<br>WIG21GG1S0<br>Czr<br>AW 3/038<br>T-15W</p></div>
<div class="k c7" style="top:617px;height:139px"><p>SSW</p></div>
<div class="k c9" style="top:617px;height:139px"><p>SSW</p></div>
<div class="k c10" style="top:617px;height:139px"><p>SSW</p></div>
<div class="k c11" style="top:617px;height:139px"><p>SSW</p></div>
<div class="k c12" style="top:617px;height:139px"><p>SSW</p></div>
<div class="k c13" style="top:617px;height:139px"><p>SSW</p></div>
<div class="k c17" style="top:617px;height:139px"><p>SSW</p></div>
<div class="k c18 szs" style="top:617px;height:139px"><p>50%<br><b>SzS(ć)</b><br>1PL/9KP;<br>WLO21FO1S0;<br>WLO21FO2S0;<br>WLO21FU1S0;<br>WLO21FZ1S0<br>ST.nr 1<br>T-5.3Ć</p></div>
<div class="k c19 szs" style="top:617px;height:139px"><p>50%<br><b>SzS(ć)</b><br>1PL/9KP;<br>WLO21FO1S0;<br>WLO21FO2S0;<br>WLO21FU1S0;<br>WLO21FZ1S0<br>ST.nr 1(PW)<br>T-5.4Ć</p></div>

<div class="k c3" style="top:756px;height:34px"><p>SSW</p></div><div class="k c4" style="top:756px;height:34px"><p>SSW</p></div><div class="k c5" style="top:756px;height:34px"><p>SSW</p></div><div class="k c6" style="top:756px;height:34px"><p>SSW</p></div><div class="k c7" style="top:756px;height:34px"><p>SSW</p></div><div class="k c9" style="top:756px;height:34px"><p>SSW</p></div><div class="k c10" style="top:756px;height:34px"><p>SSW</p></div><div class="k c11" style="top:756px;height:34px"><p>SSW</p></div><div class="k c12" style="top:756px;height:34px"><p>SSW</p></div><div class="k c13" style="top:756px;height:34px"><p>SSW</p></div><div class="k c17" style="top:756px;height:34px"><p>SSW</p></div><div class="k c18" style="top:756px;height:34px"><p>SSW</p></div><div class="k c19" style="top:756px;height:34px"><p>SSW</p></div>
<div class="k c3" style="top:790px;height:31px"><p>SSW</p></div><div class="k c4" style="top:790px;height:31px"><p>SSW</p></div><div class="k c5" style="top:790px;height:31px"><p>SSW</p></div><div class="k c6" style="top:790px;height:31px"><p>SSW</p></div><div class="k c7" style="top:790px;height:31px"><p>SSW</p></div><div class="k c9" style="top:790px;height:31px"><p>SSW</p></div><div class="k c10" style="top:790px;height:31px"><p>SSW</p></div><div class="k c11" style="top:790px;height:31px"><p>SSW</p></div><div class="k c12" style="top:790px;height:31px"><p>SSW</p></div><div class="k c13" style="top:790px;height:31px"><p>SSW</p></div><div class="k c17" style="top:790px;height:31px"><p>SSW</p></div><div class="k c18" style="top:790px;height:31px"><p>SSW</p></div><div class="k c19" style="top:790px;height:31px"><p>SSW</p></div>

<!-- ===== WT ===== -->
<div class="k c5 dsm" style="top:858px;height:85px"><p><b>DSMPiSwCz(w)</b><br>WLO21FO1S0;<br>WLO21FO2S0<br>Woź.J<br>0.19/ 135</p></div>
<div class="k c6 dsm" style="top:858px;height:85px"><p><b>DSMPiSwCz(w)</b><br>WLO21FO1S0;<br>WLO21FO2S0<br>Woź.J<br>0.19/ 135</p></div>
<div class="k c7 dsm" style="top:858px;height:85px"><p><b>DSMPiSwCz(w)</b><br>WLO21FO1S0;<br>WLO21FO2S0<br>Woź.J<br>0.19/ 135</p></div>
<div class="k c9 wzz" style="top:858px;height:85px"><p><b>WzzD(ć)</b><br>WLO21FO2S0;<br>WLO21FZ1S0<br>Mich.B<br>0.22/ 16</p></div>
<div class="k c10 mv" style="top:858px;height:85px"><p><b>Mv.(ć)</b><br>WLO21FO2S0;<br>WLO21FZ1S0<br>Pap.K<br>0.22/ 16</p></div>
<div class="k c11 dpl" style="top:858px;height:85px"><p><b>Dpl(w)</b><br>WLO21FO1S0;<br>WLO21FO2S0;<br>WLO21FZ1S0;<br>WLO21FU1S0<br>Paw.M<br>0.19/ 135</p></div>
<div class="k c12 mv" style="top:858px;height:85px"><p><b>Mv.(ć)</b><br>WLO21FO2S0;<br>WLO21FZ1S0<br>Pap.K<br>0.22/ 16</p></div>
<div class="k c13 dsm" style="top:858px;height:85px"><p><b>DSMPiSwCz(S)</b><br>WLO21FO2S0<br>Woź.J<br>0.6/ 16</p></div>

<div class="k c3 wzz" style="top:943px;height:93px"><p><b>WzzD(w)</b><br>WLO21FO1S0;<br>WLO21FO2S0;<br>WLO21FZ1S0;<br>WLO21FU1S0;<br>WLO24FR1S4<br>Hry.Z<br>3.16/ 135</p></div>
<div class="k c5 mv" style="top:943px;height:93px"><p><b>Mv.(w)</b><br>WLO21FO1S0;<br>WLO21FO2S0;<br>WLO21FZ1S0;<br>WLO21FU1S0;<br>WLO24FR1S4<br>Pap.K<br>1.16/ 16</p></div>
<div class="k c6 wzz" style="top:943px;height:93px"><p><b>WzzD(w)</b><br>WLO21FO1S0;<br>WLO21FO2S0;<br>WLO21FZ1S0;<br>WLO21FU1S0;<br>WLO24FR1S4<br>Hry.Z<br>3.16/ 135</p></div>
<div class="k c7 wzz" style="top:943px;height:93px"><p><b>WzzD(w)</b><br>WLO21FO1S0;<br>WLO21FO2S0;<br>WLO21FZ1S0;<br>WLO21FU1S0;<br>WLO24FR1S4<br>Hry.Z<br>3.16/ 135</p></div>
<div class="k c9 wzz" style="top:943px;height:93px"><p><b>WzzD(w)</b><br>WLO21FO1S0;<br>WLO21FO2S0;<br>WLO21FZ1S0;<br>WLO21FU1S0;<br>WLO24FR1S4<br>Hry.Z<br>3.16/ 135</p></div>
<div class="k c10 wzz" style="top:943px;height:93px"><p><b>WzzD(w)</b><br>WLO21FO1S0;<br>WLO21FO2S0;<br>WLO21FZ1S0;<br>WLO21FU1S0;<br>WLO24FR1S4<br>Hry.Z<br>3.16/ 135</p></div>
<div class="k c11 dpl" style="top:943px;height:93px"><p><b>Dpl(w)</b><br>WLO21FO1S0;<br>WLO21FO2S0;<br>WLO21FZ1S0;<br>WLO21FU1S0<br>Paw.M<br>0.19/ 135</p></div>
<div class="k c12 wzz" style="top:943px;height:93px"><p><b>WzzD(L)</b><br>WLO21FO2S0;<br>WLO21FZ1S0<br>Mich.B; Wiś.A<br>14/ 23a</p></div>
<div class="k c13 wzz" style="top:943px;height:93px"><p><b>WzzD(w)</b><br>WLO21FO1S0;<br>WLO21FO2S0;<br>WLO21FZ1S0;<br>WLO21FU1S0;<br>WLO24FR1S4<br>Hry.Z<br>3.16/ 135</p></div>
<div class="k c17 dpl" style="top:943px;height:93px"><p><b>Dpl(ć)</b><br>WLO21FO2S0;<br>WLO21FZ1S0<br>Gul<br>0.22/ 16</p></div>
<div class="k c18 dpl" style="top:943px;height:93px"><p><b>Dpl(ć)</b><br>WLO21FO2S0;<br>WLO21FZ1S0<br>Gul<br>1.21/ 135</p></div>
<div class="k c19 dpl" style="top:943px;height:93px"><p><b>Dpl(ć)</b><br>WLO21FO2S0;<br>WLO21FZ1S0<br>Gul<br>1.21/ 135</p></div>

<div class="k c2 dsz" style="top:1036px;height:74px"><p><b>DSŻwCPKiWnST(Ep)</b><br>WLO21FO1S0;<br>WLO21FO2S0<br>D.Spy<br>1.15/ 16</p></div>
<div class="k c3 wf" style="top:1036px;height:74px"><p><b>WF(ć)</b><br>WLO21FO1S0;<br>WLO21FO2S0;<br>WLO21FU1S0;<br>WLO21FZ1S0<br>PFiedoruk</p></div>
<div class="k c5 wf" style="top:1036px;height:74px"><p><b>WF(ć)</b><br>WLO21FO1S0;<br>WLO21FO2S0;<br>WLO21FU1S0;<br>WLO21FZ1S0<br>PFiedoruk</p></div>
<div class="k c6 wf" style="top:1036px;height:74px"><p><b>WF(ć)</b><br>WLO21FO1S0;<br>WLO21FO2S0;<br>WLO21FU1S0;<br>WLO21FZ1S0<br>PFiedoruk</p></div>
<div class="k c7 wf" style="top:1036px;height:74px"><p><b>WF(ć)</b><br>WLO21FO1S0;<br>WLO21FO2S0;<br>WLO21FU1S0;<br>WLO21FZ1S0<br>PFiedoruk</p></div>
<div class="k c9 wf" style="top:1036px;height:74px"><p><b>WF(ć)</b><br>WLO21FO1S0;<br>WLO21FO2S0;<br>WLO21FU1S0;<br>WLO21FZ1S0<br>PFiedoruk</p></div>
<div class="k c10 wf" style="top:1036px;height:74px"><p><b>WF(ć)</b><br>WLO21FO1S0;<br>WLO21FO2S0;<br>WLO21FU1S0;<br>WLO21FZ1S0<br>PFiedoruk</p></div>
<div class="k c11 wf" style="top:1036px;height:74px"><p><b>WF(ć)</b><br>WLO21FO1S0;<br>WLO21FO2S0;<br>WLO21FU1S0;<br>WLO21FZ1S0<br>PFiedoruk</p></div>
<div class="k c12 wf" style="top:1036px;height:74px"><p><b>WF(ć)</b><br>WLO21FO1S0;<br>WLO21FO2S0;<br>WLO21FU1S0;<br>WLO21FZ1S0<br>PFiedoruk</p></div>
<div class="k c13 wf" style="top:1036px;height:74px"><p><b>WF(ć)</b><br>WLO21FO1S0;<br>WLO21FO2S0;<br>WLO21FU1S0;<br>WLO21FZ1S0<br>PFiedoruk</p></div>
<div class="k c17 wf" style="top:1036px;height:74px"><p><b>WF(ć)</b><br>WLO21FO1S0;<br>WLO21FO2S0;<br>WLO21FU1S0;<br>WLO21FZ1S0<br>PFiedoruk</p></div>
<div class="k c18 wf" style="top:1036px;height:74px"><p><b>WF(ć)</b><br>WLO21FO1S0;<br>WLO21FO2S0;<br>WLO21FU1S0;<br>WLO21FZ1S0<br>PFiedoruk</p></div>
<div class="k c19 wf" style="top:1036px;height:74px"><p><b>WF(ć)</b><br>WLO21FO1S0;<br>WLO21FO2S0;<br>WLO21FU1S0;<br>WLO21FZ1S0<br>PFiedoruk</p></div>

<div class="k c3 spu" style="top:1110px;height:84px"><p><b>Spulo(w)</b><br>WLO21FO1S0;<br>WLO21FO2S0;<br>WLO21FZ1S0;<br>WLO21FU1S0<br>So.I<br>0.19/ 135</p></div>
<div class="k c4 dsm" style="top:1110px;height:84px"><p><b>DSMPiSwCz(w)</b><br>WLO21FO1S0;<br>WLO21FO2S0<br>Woź.J<br>0.28/ 135</p></div>
<div class="k c5 spu" style="top:1110px;height:84px"><p><b>Spulo(w)</b><br>WLO21FO1S0;<br>WLO21FO2S0;<br>WLO21FZ1S0;<br>WLO21FU1S0<br>So.I<br>0.19/ 135</p></div>
<div class="k c6 spu" style="top:1110px;height:84px"><p><b>Spulo(w)</b><br>WLO21FO1S0;<br>WLO21FO2S0;<br>WLO21FZ1S0;<br>WLO21FU1S0<br>So.I<br>0.19/ 135</p></div>
<div class="k c7 spu" style="top:1110px;height:84px"><p><b>Spulo(w)</b><br>WLO21FO1S0;<br>WLO21FO2S0;<br>WLO21FZ1S0;<br>WLO21FU1S0<br>So.I<br>0.19/ 135</p></div>
<div class="k c9 spu" style="top:1110px;height:84px"><p><b>Spulo(w)</b><br>WLO21FO1S0;<br>WLO21FO2S0;<br>WLO21FZ1S0;<br>WLO21FU1S0<br>So.I<br>0.19/ 135</p></div>
<div class="k c10 spu" style="top:1110px;height:84px"><p><b>Spulo(w)</b><br>WLO21FO1S0;<br>WLO21FO2S0;<br>WLO21FZ1S0;<br>WLO21FU1S0<br>So.I<br>0.19/ 135</p></div>
<div class="k c11 wzz" style="top:1110px;height:84px"><p><b>WzzD(ć)</b><br>WLO21FO2S0;<br>WLO21FZ1S0<br>Mich.D<br>31/ 158</p></div>
<div class="k c12 mm" style="top:1110px;height:84px"><p><b>MM - ZWSI<br>RON(S)</b><br>WLO21FO2S0<br>P.Gór<br>1.7/ 16</p></div>
<div class="k c13 spu" style="top:1110px;height:84px"><p><b>Spulo(w)</b><br>WLO21FO1S0;<br>WLO21FO2S0;<br>WLO21FZ1S0;<br>WLO21FU1S0<br>So.I<br>0.19/ 135</p></div>

<div class="k c3 ja" style="top:1194px;height:348px"><p><b>Ja(ć)</b><br>WMT21LL1S0;<br>WMT21AZ1S0;<br>WIG21GR1S0;<br>WLO21FZ1S0;<br>WLO21FU1S0;<br>WLO21FO2S0;<br>WLO21FO1S0;<br>WLO21EW1S0;<br>WMT21AC1S0;<br>WMT21AE1S0;<br>WMT21AF1S0;<br>WMT21AT1S0;<br>WMT21AS1S0;<br>WMT21LL2S0;<br>WMT21LL3S0<br>231 K;125 K;127<br>K;128 K;131 K;133<br>K;134 K;230 K</p></div>
<div class="k c4 ja" style="top:1194px;height:348px"><p><b>Ja(ć)</b><br>WTC21CO1S0;<br>WME21MI1S0;<br>WMT21AZ1S0;<br>WME21MC1S0;<br>WIG21GR1S0;<br>WLO21FZ1S0;<br>WLO21FU1S0;<br>WLO21FO2S0;<br>WLO21FO1S0;<br>WLO21EW1S0;<br>WMT21AG1S0;<br>WMT21AE1S0;<br>WME21MT1S0;<br>WME21MN1S0;<br>WMT21AF1S0;<br>WMT21AT1S0;<br>WMT21AS1S0;<br>WMT21LL1S0;<br>WMT21LL2S0;<br>WMT21LL3S0<br>231 K;125 K;127<br>K;128 K;131 K;133<br>K;134 K;230 K</p></div>
<div class="k c5 ja" style="top:1194px;height:348px"><p><b>Ja(ć)</b><br>WTC21CO1S0;<br>WME21MI1S0;<br>WMT21AZ1S0;<br>WME21MC1S0;<br>WIG21GR1S0;<br>WLO21FZ1S0;<br>WLO21FU1S0;<br>WLO21FO2S0;<br>WLO21FO1S0;<br>WLO21EW1S0;<br>WMT21AG1S0;<br>WMT21AE1S0;<br>WME21MT1S0;<br>WME21MN1S0;<br>WMT21AF1S0;<br>WMT21AT1S0;<br>WMT21AS1S0;<br>WMT21LL1S0;<br>WMT21LL2S0;<br>WMT21LL3S0<br>231 K;125 K;127<br>K;128 K;131 K;133<br>K;134 K;230 K</p></div>
<div class="k c6 ja" style="top:1194px;height:348px"><p><b>Ja(ć)</b><br>WMT21AZ1S0;<br>WIG21GG1S0;<br>WIG21GR1S0;<br>WIG21GM1S0;<br>WLO21FZ1S0;<br>WLO21FU1S0;<br>WLO21FO2S0;<br>WLO21FO1S0;<br>WIG21BJLS0;<br>WIG21BISS0;<br>WTC21CO1S0;<br>WLO21EW1S0;<br>WMT21AC1S0;<br>WMT21AE1S0;<br>WME21MT1S0;<br>WME21MI1S0;<br>WME21MN1S0;<br>WME21MC1S0;<br>WMT21AF1S0;<br>WMT21AT1S0;<br>WMT21AS1S0;<br>WMT21LL3S0<br>231 K;125 K;127<br>K;128 K;131 K;133<br>K;134 K;230 K</p></div>
<div class="k c7 ja" style="top:1194px;height:348px"><p><b>Ja(ć)</b><br>WMT21AZ1S0;<br>WIG21CG1S0;<br>WIG21CR1S0;<br>WIG21CM1S0;<br>WLO21FZ1S0;<br>WLO21FU1S0;<br>WLO21FO2S0;<br>WLO21FO1S0;<br>WIG21BJLS0;<br>WIG21BJOS0;<br>WIG21BIDS0;<br>WIG21BISS0;<br>WTC21CO1S0;<br>WLO21EW1S0;<br>WMT21AC1S0;<br>WMT21AE1S0;<br>WME21MT1S0;<br>WME21MI1S0;<br>WME21MN1S0;<br>WMT21AF1S0;<br>WMT21AT1S0;<br>WMT21AS1S0;<br>WMT21LL2S0;<br>WMT21LL3S0<br>231 K;125 K;127<br>K;128 K;131 K;133<br>K;134 K;230 K</p></div>
<div class="k c9 ja" style="top:1194px;height:348px"><p><b>Ja(ć)</b><br>WMT21AZ1S0;<br>WIG21CG1S0;<br>WIG21CR1S0;<br>WIG21GM1S0;<br>WLO21FZ1S0;<br>WLO21FU1S0;<br>WLO21FO2S0;<br>WLO21FO1S0;<br>WIG21BJLS0;<br>WIG21BJOS0;<br>WIG21BIDS0;<br>WIG21BISS0;<br>WTC21CO1S0;<br>WLO21EW1S0;<br>WMT21AC1S0;<br>WMT21AE1S0;<br>WME21MT1S0;<br>WME21MI1S0;<br>WME21MN1S0;<br>WMT21AF1S0;<br>WMT21AT1S0;<br>WMT21AS1S0;<br>WMT21LL2S0;<br>WMT21LL3S0<br>231 K;125 K;127<br>K;128 K;131 K;133<br>K;134 K;230 K</p></div>
<div class="k c10 ja" style="top:1194px;height:348px"><p><b>Ja(ć)</b><br>WMT21AZ1S0;<br>WIG21CG1S0;<br>WIG21CR1S0;<br>WIG21GM1S0;<br>WLO21FZ1S0;<br>WLO21FU1S0;<br>WLO21FO2S0;<br>WLO21FO1S0;<br>WIG21BJLS0;<br>WIG21BJOS0;<br>WIG21BIDS0;<br>WIG21BISS0;<br>WTC21CO1S0;<br>WLO21EW1S0;<br>WMT21AC1S0;<br>WMT21AE1S0;<br>WME21MT1S0;<br>WME21MI1S0;<br>WME21MN1S0;<br>WMT21AF1S0;<br>WMT21AT1S0;<br>WMT21AS1S0;<br>WMT21LL2S0;<br>WMT21LL3S0<br>231 K;125 K;127<br>K;128 K;131 K;133<br>K;134 K;230 K</p></div>
<div class="k c11 ja" style="top:1194px;height:348px"><p><b>Ja(ć)</b><br>WMT21AZ1S0;<br>WIG21CG1S0;<br>WIG21CR1S0;<br>WIG21GM1S0;<br>WLO21FZ1S0;<br>WLO21FU1S0;<br>WLO21FO2S0;<br>WLO21FO1S0;<br>WIG21BJLS0;<br>WIG21BJOS0;<br>WIG21BIDS0;<br>WIG21BISS0;<br>WTC21CO1S0;<br>WLO21EW1S0;<br>WMT21AC1S0;<br>WMT21AE1S0;<br>WME21MT1S0;<br>WME21MI1S0;<br>WME21MN1S0;<br>WMT21AF1S0;<br>WMT21AT1S0;<br>WMT21AS1S0;<br>WMT21LL2S0;<br>WMT21LL3S0<br>231 K;125<br>K;127 K;128<br>K;131 K;133<br>K;134 K;230 K</p></div>
<div class="k c12 ja" style="top:1194px;height:348px"><p><b>Ja(ć)</b><br>WMT21AZ1S0;<br>WIG21CG1S0;<br>WIG21CR1S0;<br>WIG21GM1S0;<br>WLO21FZ1S0;<br>WLO21FU1S0;<br>WLO21FO2S0;<br>WLO21FO1S0;<br>WIG21BJLS0;<br>WIG21BJOS0;<br>WIG21BIDS0;<br>WIG21BISS0;<br>WTC21CO1S0;<br>WLO21EW1S0;<br>WMT21AC1S0;<br>WMT21AE1S0;<br>WME21MT1S0;<br>WME21MI1S0;<br>WME21MN1S0;<br>WMT21AF1S0;<br>WMT21AT1S0;<br>WMT21AS1S0;<br>WMT21LL2S0;<br>WMT21LL3S0<br>231 K;125<br>K;127 K;128<br>K;131 K;133<br>K;134 K;230 K</p></div>
<div class="k c13 ja" style="top:1194px;height:348px"><p><b>Ja(ć)</b><br>WMT21AZ1S0;<br>WIG21CG1S0;<br>WIG21CR1S0;<br>WIG21GM1S0;<br>WLO21FZ1S0;<br>WLO21FU1S0;<br>WLO21FO2S0;<br>WLO21FO1S0;<br>WIG21BJLS0;<br>WIG21BJOS0;<br>WIG21BIDS0;<br>WIG21BISS0;<br>WTC21CO1S0;<br>WLO21EW1S0;<br>WMT21AC1S0;<br>WMT21AE1S0;<br>WME21MT1S0;<br>WME21MI1S0;<br>WME21MN1S0;<br>WMT21AF1S0;<br>WMT21AT1S0;<br>WMT21AS1S0;<br>WMT21LL2S0;<br>WMT21LL3S0<br>231 K;125 K;127<br>K;128 K;131 K;133<br>K;134 K;230 K</p></div>
<div class="k c17 ja" style="top:1194px;height:348px"><p><b>Ja(ć)</b><br>WMT21AZ1S0;<br>WIG21CG1S0;<br>WIG21CR1S0;<br>WIG21GM1S0;<br>WLO21FZ1S0;<br>WLO21FU1S0;<br>WLO21FO2S0;<br>WLO21FO1S0;<br>WIG21BJLS0;<br>WIG21BJOS0;<br>WIG21BIDS0;<br>WIG21BISS0;<br>WTC21CO1S0;<br>WLO21EW1S0;<br>WMT21AC1S0;<br>WMT21AE1S0;<br>WME21MT1S0;<br>WME21MI1S0;<br>WME21MN1S0;<br>WMT21AF1S0;<br>WMT21AT1S0;<br>WMT21AS1S0;<br>WMT21LL2S0;<br>WMT21LL3S0<br>231 K;125 K;127<br>K;128 K;131 K;133<br>K;134 K;230 K</p></div>
<div class="k c18 ja" style="top:1194px;height:348px"><p><b>Ja(ć)</b><br>WMT21AZ1S0;<br>WIG21CG1S0;<br>WIG21CR1S0;<br>WIG21GM1S0;<br>WLO21FZ1S0;<br>WLO21FU1S0;<br>WLO21FO2S0;<br>WLO21FO1S0;<br>WIG21BJLS0;<br>WIG21BJOS0;<br>WIG21BIDS0;<br>WIG21BISS0;<br>WTC21CO1S0;<br>WLO21EW1S0;<br>WMT21AC1S0;<br>WMT21AE1S0;<br>WME21MT1S0;<br>WME21MI1S0;<br>WME21MN1S0;<br>WMT21AF1S0;<br>WMT21AT1S0;<br>WMT21AS1S0;<br>WMT21LL2S0;<br>WMT21LL3S0<br>231 K;125 K;127<br>K;128 K;131 K;133<br>K;134 K;230 K</p></div>
<div class="k c19 ja" style="top:1194px;height:348px"><p><b>Ja(ć)</b><br>WMT21AZ1S0;<br>WIG21CG1S0;<br>WIG21CR1S0;<br>WIG21GM1S0;<br>WLO21FZ1S0;<br>WLO21FU1S0;<br>WLO21FO2S0;<br>WLO21FO1S0;<br>WIG21BJLS0;<br>WIG21BJOS0;<br>WIG21BIDS0;<br>WIG21BISS0;<br>WTC21CO1S0;<br>WLO21EW1S0;<br>WMT21AC1S0;<br>WMT21AE1S0;<br>WME21MT1S0;<br>WME21MI1S0;<br>WME21MN1S0;<br>WMT21AF1S0;<br>WMT21AT1S0;<br>WMT21AS1S0;<br>WMT21LL2S0;<br>WMT21LL3S0<br>231 K;125 K;127<br>K;128 K;131<br>K;133 K;134<br>K;230 K</p></div>

<div class="k c17 wf" style="top:1542px;height:316px"><p><b>WF(w)</b><br>WLO21FO1S0;<br>WLO21FO2S0;<br>WLO21FU1S0;<br>WLO21FZ1S0;<br>WLO21EW1S0;<br>WTC21CO1S0;<br>WIG21BISS0;<br>WIG21BIDS0;<br>WIG21BJOS0;<br>WIG21BJLS0;<br>WIG21GM1S0;<br>WIG21GR1S0;<br>WIG21GG1S0;<br>WME21MC1S0;<br>WME21MN1S0;<br>WME21MI1S0;<br>WME21MT1S0;<br>WMT21AE1S0;<br>WMT21AG1S0;<br>WMT21AS1S0;<br>WMT21AT1S0;<br>WMT21AC1S0;<br>WMT21AF1S0;<br>WMT21LL1S0;<br>WMT21LL2S0;<br>WMT21LL3S0;<br>WMT21AZ1S0</p></div>

<!-- ===== ŚR ===== -->
<div class="k c2 spu" style="top:1949px;height:95px"><p><b>Spulo(w)</b><br>WLO21FO1S0;<br>WLO21FO2S0;<br>WLO21FZ1S0;<br>WLO21FU1S0<br>So.I<br>0.15/ 135</p></div>
<div class="k c3 dgb" style="top:1949px;height:95px"><p><b>DGB(ć)</b><br>WLO21FO1S0;<br>WLO21FO2S0;<br>WLO21FU1S0;<br>WLO21FZ1S0;<br>WLO21EW1S0</p></div>
<div class="k c4 mv" style="top:1949px;height:95px"><p><b>Mv.(w)</b><br>WLO21FO1S0;<br>WLO21FO2S0;<br>WLO21FZ1S0;<br>WLO21FU1S0;<br>WLO24FR1S4<br>Pap.K<br>3.16/ 135</p></div>
<div class="k c5 zz" style="top:1949px;height:95px"><p><b>ZŻWAT(ć)</b><br>WLO21FO1S0;<br>WLO21FO2S0;<br>WLO21FU1S0;<br>WLO21FZ1S0;<br>WLO21EW1S0</p></div>
<div class="k c6 wf" style="top:1949px;height:95px"><p><b>WF(ć)</b><br>WLO21FO1S0;<br>WLO21FO2S0;<br>WLO21FU1S0;<br>WLO21FZ1S0<br>PFiedoruk</p></div>
<div class="k c7 wf" style="top:1949px;height:95px"><p><b>WF(ć)</b><br>WLO21FO1S0;<br>WLO21FO2S0;<br>WLO21FU1S0;<br>WLO21FZ1S0<br>PFiedoruk</p></div>
<div class="k c8 coo" style="top:1949px;height:95px"><p><b>CoO(w)</b><br>WLO21FO1S0;<br>WLO21FO2S0;<br>WLO21FZ1S0;<br>WLO21FU1S0;<br>WLO24FR1S4<br>Ko.T<br>3.16/ 135</p></div>
<div class="k c9 zz" style="top:1949px;height:95px"><p><b>ZŻWAT(i)</b><br>S.WOJ21</p></div>
<div class="k c10 dsk" style="top:1949px;height:95px"><p><b>DSMwPKW(w)</b><br>WLO21FO1S0;<br>WLO21FO2S0<br>ADe<br>1.17/ 16</p></div>
<div class="k c12 dgb" style="top:1949px;height:95px"><p><b>DGB(ć)</b><br>S.WOJ21</p></div>
<div class="k c13 zz" style="top:1949px;height:95px"><p><b>ZŻWAT(i)</b><br>S.WOJ21</p></div>
<div class="k c17 zz" style="top:1949px;height:95px"><p><b>ZŻWAT(i)</b><br>S.WOJ21</p></div>
<div class="k c18 bie" style="top:1949px;height:95px"><p>50%<br><b>BiESW(L)</b><br>WLO21FO2S0;<br>WLO21FZ1S0<br>LeG; MaMor;<br>SzupD; SmŁ<br>7 69;29 69;18 69</p></div>

<div class="k c2 bie" style="top:2044px;height:95px"><p><b>BiESW(w)</b><br>WLO21FO1S0;<br>WLO21FO2S0;<br>WLO21FZ1S0;<br>WLO21FU1S0<br>SmŁ<br>3.16/ 135</p></div>
<div class="k c3 dgb" style="top:2044px;height:95px"><p><b>DGB(ć)</b><br>WLO21FO1S0;<br>WLO21FO2S0;<br>WLO21FU1S0;<br>WLO21FZ1S0;<br>WLO21EW1S0</p></div>
<div class="k c4 bie" style="top:2044px;height:95px"><p><b>BiESW(w)</b><br>WLO21FO1S0;<br>WLO21FO2S0;<br>WLO21FZ1S0;<br>WLO21FU1S0<br>SmŁ<br>0.19/ 135</p></div>
<div class="k c5 szr" style="top:2044px;height:95px"><p><b>SZR(ć)</b><br>WLO21FO2S0<br>RWoź<br>1.27/ 135</p></div>
<div class="k c6 wzz" style="top:2044px;height:95px"><p><b>WzzD(w)</b><br>WLO21FO1S0;<br>WLO21FO2S0;<br>WLO21FZ1S0;<br>WLO21FU1S0;<br>WLO24FR1S4<br>Hry.Z<br>3.15/ 135</p></div>
<div class="k c7 mv" style="top:2044px;height:95px"><p><b>Mv.(w)</b><br>WLO21FO1S0;<br>WLO21FO2S0;<br>WLO21FZ1S0;<br>WLO21FU1S0;<br>WLO24FR1S4<br>Pap.K<br>3.16/ 135</p></div>
<div class="k c8 wzz" style="top:2044px;height:95px"><p><b>WzzD(w)</b><br>WLO21FO1S0;<br>WLO21FO2S0;<br>WLO21FZ1S0;<br>WLO21FU1S0;<br>WLO24FR1S4<br>Hry.Z<br>0.15/ 135</p></div>
<div class="k c9 mv" style="top:2044px;height:95px"><p><b>Mv.(w)</b><br>WLO21FO1S0;<br>WLO21FO2S0;<br>WLO21FZ1S0;<br>WLO21FU1S0;<br>WLO24FR1S4<br>Pap.K<br>3.16/ 135</p></div>
<div class="k c10 mv" style="top:2044px;height:95px"><p><b>Mv.(w)</b><br>WLO21FO1S0;<br>WLO21FO2S0;<br>WLO21FZ1S0;<br>WLO21FU1S0;<br>WLO24FR1S4<br>Pap.K<br>0.19/ 135</p></div>
<div class="k c11 mv" style="top:2044px;height:95px"><p><b>Mv.(w)</b><br>WLO21FO1S0;<br>WLO21FO2S0;<br>WLO21FZ1S0;<br>WLO21FU1S0;<br>WLO24FR1S4<br>Pap.K<br>0.19/ 135</p></div>
<div class="k c12 dgb" style="top:2044px;height:95px"><p><b>DGB(ć)</b><br>S.WOJ21</p></div>
<div class="k c13 spu" style="top:2044px;height:95px"><p><b>Spulo(ć)</b><br>WLO21FO2S0;<br>WLO21FZ1S0<br>So.I<br>0.8/ 16</p></div>
<div class="k c16 dpl" style="top:2044px;height:95px"><p><b>Dpl(ć)</b><br>WLO21FO2S0;<br>WLO21FZ1S0<br>Gul<br>9/ 158</p></div>
<div class="k c18 bie" style="top:2044px;height:95px"><p><b>BiESW(L)</b><br>WLO21FO2S0;<br>WLO21FZ1S0<br>LeG; MaMor;<br>SzupD; SmŁ<br>7 69;29 69;18 69</p></div>
<div class="k c19 bie" style="top:2044px;height:95px"><p><b>BiESW(S)</b><br>WLO21FZ1S0;<br>WLO21FO2S0<br>Za.M.<br>28 69</p></div>

<div class="k c2 dsk" style="top:2139px;height:96px"><p><b>DSMwPKW(w)</b><br>WLO21FO1S0;<br>WLO21FO2S0<br>ADe<br>0.8/ 16</p></div>
<div class="k c3 dgb" style="top:2139px;height:96px"><p><b>DGB(ć)</b><br>WLO21FO1S0;<br>WLO21FO2S0;<br>WLO21FU1S0;<br>WLO21FZ1S0;<br>WLO21EW1S0</p></div>
<div class="k c4 coo" style="top:2139px;height:96px"><p><b>CoO(w)</b><br>WLO21FO1S0;<br>WLO21FO2S0;<br>WLO21FZ1S0;<br>WLO21FU1S0;<br>WLO24FR1S4<br>Ko.T<br>3.16/ 135</p></div>
<div class="k c6 bie" style="top:2139px;height:96px"><p><b>BiESW(w)</b><br>WLO21FO1S0;<br>WLO21FO2S0;<br>WLO21FZ1S0;<br>WLO21FU1S0<br>SmŁ<br>0.19/ 135</p></div>
<div class="k c7 dpl" style="top:2139px;height:96px"><p><b>Dpl(w)</b><br>WLO21FO1S0;<br>WLO21FO2S0;<br>WLO21FZ1S0;<br>WLO21FU1S0<br>Paw.M<br>0.19/ 135</p></div>
<div class="k c8 bie" style="top:2139px;height:96px"><p><b>BiESW(ć)</b><br>WLO21FO2S0;<br>WLO21FZ1S0<br>SmŁ<br>18 69</p></div>
<div class="k c9 mm" style="top:2139px;height:96px"><p><b>MM - ZWSI<br>RON(w)</b><br>WLO21FO1S0;<br>WLO21FO2S0<br>P.Gór<br>1.7/ 16</p></div>
<div class="k c10 bie" style="top:2139px;height:96px"><p><b>BiESW(ć)</b><br>WLO21FO2S0;<br>WLO21FZ1S0<br>Dpoz<br>18 69</p></div>
<div class="k c11 coo" style="top:2139px;height:96px"><p><b>CoO(ć)</b><br>WLO21FO2S0;<br>WLO21FZ1S0<br>Ko.T<br>0.19/ 135</p></div>
<div class="k c12 dgb" style="top:2139px;height:96px"><p><b>DGB(ć)</b><br>S.WOJ21</p></div>
<div class="k c13 dpl" style="top:2139px;height:96px"><p><b>Dpl(ć)</b><br>WLO21FO2S0;<br>WLO21FZ1S0<br>Gul<br>1.27/ 135</p></div>
<div class="k c16 bie" style="top:2139px;height:96px"><p><b>BiESW(L)</b><br>WLO21FO2S0;<br>WLO21FZ1S0<br>LeG; MaMor;<br>SzupD; SmŁ<br>7 69;29 69;18 69</p></div>
<div class="k c17 wzb" style="top:2139px;height:96px"><p><b>wzbnim(ć)</b><br>WLO21FO2S0<br>MW<br>9/ 158</p></div>
<div class="k c18 bie" style="top:2139px;height:96px"><p><b>BiESW(L)</b><br>WLO21FO2S0;<br>WLO21FZ1S0<br>LeG; MaMor;<br>SzupD; SmŁ<br>7 69;29 69;18 69</p></div>
<div class="k c19 dsk" style="top:2139px;height:96px"><p><b>DSMwPKW(S)</b><br>WLO21FO2S0<br>ADe<br>1.17/ 16</p></div>

<div class="k c2 coo" style="top:2235px;height:100px"><p><b>CoO(w)</b><br>WLO21FO1S0;<br>WLO21FO2S0;<br>WLO21FZ1S0;<br>WLO21FU1S0;<br>WLO24FR1S4<br>Ko.T<br>3.16/ 135</p></div>
<div class="k c3 dgb" style="top:2235px;height:100px"><p><b>DGB(ć)</b><br>WLO21FO1S0;<br>WLO21FO2S0;<br>WLO21FU1S0;<br>WLO21FZ1S0;<br>WLO21EW1S0</p></div>
<div class="k c4 mv" style="top:2235px;height:100px"><p><b>Mv.(w)</b><br>WLO21FO1S0;<br>WLO21FO2S0;<br>WLO21FZ1S0;<br>WLO21FU1S0<br>Pap.K<br>1.9/ 16</p></div>
<div class="k c6 szr" style="top:2235px;height:100px"><p><b>SZR(S)</b><br>WLO21FO2S0<br>RWoź<br>4.23/ 135</p></div>
<div class="k c7 dpl" style="top:2235px;height:100px"><p><b>Dpl(w)</b><br>WLO21FO1S0;<br>WLO21FO2S0;<br>WLO21FZ1S0;<br>WLO21FU1S0<br>Paw.M<br>0.19/ 135</p></div>
<div class="k c8 dsm" style="top:2235px;height:100px"><p><b>DSMPiSwCz(ć)</b><br>WLO21FO2S0<br>Woź.J<br>1.17/ 16</p></div>
<div class="k c9 mm" style="top:2235px;height:100px"><p><b>MM - ZWSI<br>RON(w)</b><br>WLO21FO1S0;<br>WLO21FO2S0<br>P.Gór<br>1.7/ 16</p></div>
<div class="k c10 wzz" style="top:2235px;height:100px"><p><b>WzzD(ć)</b><br>WLO21FO2S0;<br>WLO21FZ1S0<br>Mich.B<br>0.23/ 16</p></div>
<div class="k c11 dpl" style="top:2235px;height:100px"><p><b>Dpl(ć)</b><br>WLO21FO2S0;<br>WLO21FZ1S0<br>Gul<br>0.22/ 16</p></div>
<div class="k c12 dgb" style="top:2235px;height:100px"><p><b>DGB(ć)</b><br>S.WOJ21</p></div>
<div class="k c13 dsm" style="top:2235px;height:100px"><p><b>DSMPiSwCz(ć)</b><br>WLO21FO2S0<br>Woź.J<br>0.6/ 16</p></div>
<div class="k c16 bie" style="top:2235px;height:100px"><p><b>BiESW(L)</b><br>WLO21FO2S0;<br>WLO21FZ1S0<br>LeG; MaMor;<br>SzupD; SmŁ<br>7 69;29 69;18 69</p></div>
<div class="k c17 mv" style="top:2235px;height:100px"><p><b>Mv.(ć)</b><br>WLO21FO2S0;<br>WLO21FZ1S0<br>Pap.K<br>PTW/ 78<br>HANGAR</p></div>
<div class="k c18 dpl" style="top:2235px;height:100px"><p><b>Dpl(S)</b><br>WLO21FO2S0;<br>WLO21FZ1S0<br>Gul<br>0.6/ 16</p></div>
<div class="k c19 dsk" style="top:2235px;height:100px"><p><b>DSMwPKW(S)</b><br>WLO21FO2S0<br>ADe<br>1.17/ 16</p></div>

<div class="k c6 wzz" style="top:2335px;height:88px"><p><b>WzzD(ć)</b><br>WLO21FO2S0;<br>WLO21FZ1S0<br>Mich.B<br>9/ 158</p></div>
<div class="k c7 dpl" style="top:2335px;height:88px"><p><b>Dpl(w)</b><br>WLO21FO1S0;<br>WLO21FO2S0;<br>WLO21FZ1S0;<br>WLO21FU1S0<br>Paw.M<br>0.19/ 135</p></div>
<div class="k c8 coo" style="top:2335px;height:88px"><p><b>CoO(ć)</b><br>WLO21FO2S0;<br>WLO21FZ1S0<br>Ko.T<br>4.23/ 135</p></div>
<div class="k c9 mm" style="top:2335px;height:88px"><p><b>MM - ZWSI<br>RON(w)</b><br>WLO21FO2S0<br>P.Gór<br>1.7/ 16</p></div>
<div class="k c10 wzz" style="top:2335px;height:88px"><p><b>WzzD(L)</b><br>WLO21FZ1S0<br>Mich.B; Wiś.A<br>14/ 23a</p></div>
<div class="k c11 dpl" style="top:2335px;height:88px"><p><b>Dpl(ć)</b><br>WLO21FO2S0;<br>WLO21FZ1S0<br>Gul<br>0.22/ 16</p></div>
<div class="k c13 dsm" style="top:2335px;height:88px"><p><b>DSMPiSwCz(ć)</b><br>WLO21FO2S0<br>Woź.J<br>0.6/ 16</p></div>
<div class="k c16 bie" style="top:2335px;height:88px"><p>50%<br><b>BiESW(L)</b><br>WLO21FO2S0;<br>WLO21FZ1S0<br>LeG; MaMor;<br>SzupD; SmŁ<br>7 69;29 69;18 69</p></div>

<!-- ===== CZW ===== -->
<div class="k c3 bie" style="top:2587px;height:83px"><p><b>BiESW(w)</b><br>WLO21FO1S0;<br>WLO21FO2S0;<br>WLO21FZ1S0;<br>WLO21FU1S0<br>LeG<br>0.19/ 135</p></div>
<div class="k c4 wf" style="top:2587px;height:83px"><p><b>WF(ć)</b><br>WLO21FO1S0;<br>WLO21FO2S0;<br>WLO21FU1S0;<br>WLO21FZ1S0<br>PFiedoruk</p></div>
<div class="k c5 bie" style="top:2587px;height:83px"><p><b>BiESW(w)</b><br>WLO21FO1S0;<br>WLO21FO2S0;<br>WLO21FZ1S0;<br>WLO21FU1S0<br>LeG<br>0.19/ 135</p></div>
<div class="k c6 bie" style="top:2587px;height:83px"><p><b>BiESW(ć)</b><br>WLO21FO2S0;<br>WLO21FZ1S0<br>SmŁ<br>7 69</p></div>
<div class="k c7" style="top:2587px;height:83px"><p>REZ</p></div>
<div class="k c8 dpl" style="top:2587px;height:83px"><p><b>Dpl(w)</b><br>WLO21FO1S0;<br>WLO21FO2S0;<br>WLO21FZ1S0;<br>WLO21FU1S0<br>Paw.M<br>0.15/ 135</p></div>
<div class="k c9 dsm" style="top:2587px;height:83px"><p><b>DSMPiSwCz(w)</b><br>WLO21FO1S0;<br>WLO21FO2S0<br>Woź.J<br>0.19/ 135</p></div>
<div class="k c10 dsm" style="top:2587px;height:83px"><p><b>DSMPiSwCz(ć)</b><br>WLO21FO2S0<br>Woź.J<br>0.6/ 16</p></div>
<div class="k c11 mm" style="top:2587px;height:83px"><p><b>MM - ZWSI<br>RON(ć)</b><br>WLO21FO2S0<br>P.Gór<br>1.7/ 16</p></div>
<div class="k c12 dsk" style="top:2587px;height:83px"><p><b>DSMwPKW(ć)</b><br>WLO21FO2S0<br>ADe<br>1.17/ 16</p></div>
<div class="k c16 dsk" style="top:2587px;height:83px"><p><b>DSMwPKW(ć)</b><br>WLO21FO2S0<br>ADe<br>1.17/ 16</p></div>
<div class="k c17 wf" style="top:2587px;height:83px"><p><b>WF(ć)</b><br>WLO21FO1S0;<br>WLO21FO2S0;<br>WLO21FU1S0;<br>WLO21FZ1S0<br>PFiedoruk</p></div>
<div class="k c18 dsm" style="top:2587px;height:83px"><p><b>DSMPiSwCz(ć)</b><br>WLO21FO2S0<br>Woź.J<br>0.6/ 16</p></div>

<div class="k c3 szr" style="top:2670px;height:95px"><p><b>SZR(w)</b><br>WLO21FO1S0;<br>WLO21FO2S0<br>RWoź<br>0.8/ 16</p></div>
<div class="k c4 szr" style="top:2670px;height:95px"><p><b>SZR(w)</b><br>WLO21FO1S0;<br>WLO21FO2S0<br>RWoź<br>3.16/ 135</p></div>
<div class="k c5 szr" style="top:2670px;height:95px"><p><b>SZR(w)</b><br>WLO21FO1S0;<br>WLO21FO2S0<br>RWoź<br>0.19/ 135</p></div>
<div class="k c6 coo" style="top:2670px;height:95px"><p><b>CoO(w)</b><br>WLO21FO1S0;<br>WLO21FO2S0;<br>WLO21FZ1S0;<br>WLO21FU1S0;<br>WLO24FR1S4<br>Ko.T<br>3.16/ 135</p></div>
<div class="k c7" style="top:2670px;height:95px"><p>REZ</p></div>
<div class="k c8 dpl" style="top:2670px;height:95px"><p><b>Dpl(w)</b><br>WLO21FO1S0;<br>WLO21FO2S0;<br>WLO21FZ1S0;<br>WLO21FU1S0<br>Paw.M<br>0.15/ 135</p></div>
<div class="k c9 dsm" style="top:2670px;height:95px"><p><b>DSMPiSwCz(w)</b><br>WLO21FO1S0;<br>WLO21FO2S0<br>Woź.J<br>0.19/ 135</p></div>
<div class="k c10 dsm" style="top:2670px;height:95px"><p><b>DSMPiSwCz(w)</b><br>WLO21FO1S0;<br>WLO21FO2S0<br>Woź.J<br>0.19/ 135</p></div>
<div class="k c11 dpl" style="top:2670px;height:95px"><p><b>Dpl(w)</b><br>WLO21FO1S0;<br>WLO21FO2S0;<br>WLO21FZ1S0;<br>WLO21FU1S0<br>Paw.M<br>0.19/ 135</p></div>
<div class="k c12 mm" style="top:2670px;height:95px"><p><b>MM - ZWSI<br>RON(ć)</b><br>WLO21FO2S0<br>P.Gór<br>1.7/ 16</p></div>
<div class="k c13 dsk" style="top:2670px;height:95px"><p><b>DSMwPKW(ć)</b><br>WLO21FO2S0<br>ADe<br>1.17/ 16</p></div>
<div class="k c16 dsk" style="top:2670px;height:95px"><p><b>DSMwPKW(ć)</b><br>WLO21FO2S0<br>ADe<br>1.17/ 16</p></div>
<div class="k c17 mm" style="top:2670px;height:95px"><p><b>MM - ZWSI<br>RON(ć)</b><br>WLO21FO2S0<br>P.Gór<br>1.7/ 16</p></div>
<div class="k c18 dsm" style="top:2670px;height:95px"><p><b>DSMPiSwCz(S)</b><br>WLO21FO2S0<br>Woź.J<br>0.6/ 16</p></div>
<div class="k c19 dpl" style="top:2670px;height:95px"><p><b>Dpl(S)</b><br>WLO21FO2S0;<br>WLO21FZ1S0<br>Gul<br>0.7/ 16</p></div>

<div class="k c2 spu" style="top:2765px;height:184px"><p><b>Spulo(w)</b><br>WLO21FO1S0;<br>WLO21FO2S0;<br>WLO21FZ1S0;<br>WLO21FU1S0<br>So.I<br>0.19/ 135</p></div>
<div class="k c3 dsm" style="top:2765px;height:184px"><p><b>DSMPiSwCz(w)</b><br>WLO21FO1S0;<br>WLO21FO2S0<br>Woź.J<br>0.8/ 16</p></div>
<div class="k c6 dpl" style="top:2765px;height:184px"><p><b>Dpl(w)</b><br>WLO21FO1S0;<br>WLO21FO2S0;<br>WLO21FZ1S0;<br>WLO21FU1S0<br>Paw.M<br>0.19/ 135</p></div>
<div class="k c7 coo" style="top:2765px;height:184px"><p><b>CoO(w)</b><br>WLO21FO1S0;<br>WLO21FO2S0;<br>WLO21FZ1S0;<br>WLO21FU1S0;<br>WLO24FR1S4<br>Ko.T<br>3.16/ 135</p></div>
<div class="k c8 wzb" style="top:2765px;height:184px"><p><b>wzbnim(w)</b><br>WIG21BIDS0;<br>WTC21CO1S0;<br>WLO21EW1S0;<br>WLO21FZ1S0;<br>WLO21FU1S0;<br>WLO21FO2S0;<br>WLO21FO1S0;<br>WIG21GR1S0;<br>WIG21GM1S0;<br>WIG21GG1S0;<br>WIG21BJOS0;<br>WIG21BJLS0;<br>WIG21BISS0<br>MW<br>aula/ 135</p></div>
<div class="k c9 wzb" style="top:2765px;height:184px"><p><b>wzbnim(w)</b><br>WIG21BIDS0;<br>WTC21CO1S0;<br>WLO21EW1S0;<br>WLO21FZ1S0;<br>WLO21FU1S0;<br>WLO21FO2S0;<br>WLO21FO1S0;<br>WIG21GR1S0;<br>WIG21GM1S0;<br>WIG21GG1S0;<br>WIG21BJOS0;<br>WIG21BJLS0;<br>WIG21BISS0<br>MW<br>aula/ 135</p></div>
<div class="k c10 wzb" style="top:2765px;height:184px"><p><b>wzbnim(w)</b><br>WIG21BIDS0;<br>WTC21CO1S0;<br>WLO21EW1S0;<br>WLO21FZ1S0;<br>WLO21FU1S0;<br>WLO21FO2S0;<br>WLO21FO1S0;<br>WIG21GR1S0;<br>WIG21GM1S0;<br>WIG21GG1S0;<br>WIG21BJOS0;<br>WIG21BJLS0;<br>WIG21BISS0<br>MW<br>aula/ 135</p></div>
<div class="k c11 dpl" style="top:2765px;height:184px"><p><b>Dpl(w)</b><br>WLO21FO1S0;<br>WLO21FO2S0;<br>WLO21FZ1S0;<br>WLO21FU1S0<br>Paw.M<br>0.19/ 135</p></div>
<div class="k c12 coo" style="top:2765px;height:184px"><p><b>CoO(ć)</b><br>WLO21FO2S0;<br>WLO21FZ1S0<br>Ko.T<br>0.6/ 16</p></div>
<div class="k c13 wzb" style="top:2765px;height:184px"><p><b>wzbnim(w)</b><br>WIG21BIDS0;<br>WTC21CO1S0;<br>WLO21EW1S0;<br>WLO21FZ1S0;<br>WLO21FU1S0;<br>WLO21FO2S0;<br>WLO21FO1S0;<br>WIG21GR1S0;<br>WIG21GM1S0;<br>WIG21GG1S0;<br>WIG21BJOS0;<br>WIG21BJLS0;<br>WIG21BISS0<br>MW<br>aula/ 135</p></div>
<div class="k c16 mv" style="top:2765px;height:184px"><p><b>Mv.(ć)</b><br>WLO21FO2S0;<br>WLO21FZ1S0<br>Pap.K<br>0.6/ 16</p></div>
<div class="k c17 mm" style="top:2765px;height:184px"><p><b>MM - ZWSI<br>RON(ć)</b><br>WLO21FO2S0<br>P.Gór<br>1.7/ 16</p></div>
<div class="k c18 dsk" style="top:2765px;height:184px"><p><b>DSMwPKW(ć)</b><br>WLO21FO2S0<br>ADe<br>1.17/ 16</p></div>

<div class="k c2 spu" style="top:2949px;height:89px"><p><b>Spulo(w)</b><br>WLO21FO1S0;<br>WLO21FO2S0;<br>WLO21FZ1S0;<br>WLO21FU1S0<br>So.I<br>0.15/ 135</p></div>
<div class="k c3 dsk" style="top:2949px;height:89px"><p><b>DSMwPKW(w)</b><br>WLO21FO1S0;<br>WLO21FO2S0<br>ADe<br>1.17/ 16</p></div>
<div class="k c4 dsk" style="top:2949px;height:89px"><p><b>DSMwPKW(w)</b><br>WLO21FO1S0;<br>WLO21FO2S0<br>ADe<br>1.17/ 16</p></div>
<div class="k c7 coo" style="top:2949px;height:89px"><p><b>CoO(ć)</b><br>WLO21FO2S0;<br>WLO21FZ1S0<br>Ko.T<br>4.17a/ 135</p></div>
<div class="k c8 bie" style="top:2949px;height:89px"><p><b>BiESW(ć)</b><br>WLO21FO2S0;<br>WLO21FZ1S0<br>LeG<br>29 69</p></div>
<div class="k c9 dpl" style="top:2949px;height:89px"><p><b>Dpl(ć)</b><br>WLO21FO2S0;<br>WLO21FZ1S0<br>Gul<br>1.27/ 135</p></div>
<div class="k c10 mv" style="top:2949px;height:89px"><p><b>Mv.(ć)</b><br>WLO21FO2S0;<br>WLO21FZ1S0<br>Pap.K<br>20/ 158</p></div>
<div class="k c11 coo" style="top:2949px;height:89px"><p><b>CoO(ć)</b><br>WLO21FO2S0;<br>WLO21FZ1S0<br>Ko.T<br>0.6/ 16</p></div>
<div class="k c16 dsm" style="top:2949px;height:89px"><p><b>DSMPiSwCz(ć)</b><br>WLO21FO2S0<br>Woź.J<br>0.7/ 16</p></div>
<div class="k c18 dsk" style="top:2949px;height:89px"><p><b>DSMwPKW(ć)</b><br>WLO21FO2S0<br>ADe<br>1.17/ 16</p></div>

<div class="k c3 dsk" style="top:3038px;height:60px"><p><b>DSMwPKW(w)</b><br>WLO21FO1S0;<br>WLO21FO2S0<br>ADe<br>1.17/ 16</p></div>
<div class="k c4 dsk" style="top:3038px;height:60px"><p><b>DSMwPKW(w)</b><br>WLO21FO1S0;<br>WLO21FO2S0<br>ADe<br>1.17/ 16</p></div>
<div class="k c7 spu" style="top:3038px;height:60px"><p><b>Spulo(ć)</b><br>WLO21FO2S0;<br>WLO21FZ1S0<br>So.I<br>1.27/ 135</p></div>
<div class="k c8 spu" style="top:3038px;height:60px"><p><b>Spulo(ć)</b><br>WLO21FO2S0;<br>WLO21FZ1S0<br>So.I<br>1.15/ 16</p></div>
<div class="k c9 coo" style="top:3038px;height:60px"><p><b>CoO(ć)</b><br>WLO21FO2S0;<br>WLO21FZ1S0<br>Ko.T<br>A.1.3/ 135</p></div>
<div class="k c16 dsm" style="top:3038px;height:60px"><p><b>DSMPiSwCz(ć)</b><br>WLO21FO2S0<br>Woź.J<br>0.7/ 16</p></div>
<div class="k c18 dsk" style="top:3038px;height:60px"><p><b>DSMwPKW(ć)</b><br>WLO21FO2S0<br>ADe<br>1.17/ 16</p></div>

<!-- ===== PT ===== -->
<div class="k c3 ja" style="top:3191px;height:350px"><p><b>Ja(ć)</b><br>WMT21LL1S0;<br>WMT21AZ1S0;<br>WIG21GR1S0;<br>WLO21FZ1S0;<br>WLO21FU1S0;<br>WLO21FO2S0;<br>WLO21FO1S0;<br>WLO21EW1S0;<br>WMT21AC1S0;<br>WMT21AE1S0;<br>WMT21AF1S0;<br>WMT21AT1S0;<br>WMT21AS1S0;<br>WMT21LL2S0;<br>WMT21LL3S0<br>231 K;125 K;127<br>K;128 K;131 K;133<br>K;134 K;230 K</p></div>
<div class="k c4 ja" style="top:3191px;height:350px"><p><b>Ja(ć)</b><br>WTC21CO1S0;<br>WME21MI1S0;<br>WMT21AZ1S0;<br>WME21MC1S0;<br>WIG21GR1S0;<br>WLO21FZ1S0;<br>WLO21FU1S0;<br>WLO21FO2S0;<br>WLO21FO1S0;<br>WLO21EW1S0;<br>WMT21AG1S0;<br>WMT21AE1S0;<br>WME21MT1S0;<br>WME21MN1S0;<br>WMT21AF1S0;<br>WMT21AT1S0;<br>WMT21AS1S0;<br>WMT21LL1S0;<br>WMT21LL2S0;<br>WMT21LL3S0<br>231 K;125 K;127<br>K;128 K;131 K;133<br>K;134 K;230 K</p></div>
<div class="k c5 ja" style="top:3191px;height:350px"><p><b>Ja(ć)</b><br>WTC21CO1S0;<br>WME21MI1S0;<br>WMT21AZ1S0;<br>WME21MC1S0;<br>WIG21GR1S0;<br>WLO21FZ1S0;<br>WLO21FU1S0;<br>WLO21FO2S0;<br>WLO21FO1S0;<br>WLO21EW1S0;<br>WMT21AG1S0;<br>WMT21AE1S0;<br>WME21MT1S0;<br>WME21MN1S0;<br>WMT21AF1S0;<br>WMT21AT1S0;<br>WMT21AS1S0;<br>WMT21LL1S0;<br>WMT21LL2S0;<br>WMT21LL3S0<br>231 K;125 K;127<br>K;128 K;131 K;133<br>K;134 K;230 K</p></div>
<div class="k c6 ja" style="top:3191px;height:350px"><p><b>Ja(ć)</b><br>WMT21AZ1S0;<br>WMT21LL3S0;<br>WMT21LL2S0;<br>WMT21AS1S0;<br>WMT21AT1S0;<br>WMT21AF1S0;<br>WMT21AC1S0;<br>WME21MC1S0;<br>WME21MN1S0;<br>WME21MT1S0;<br>WMT21AE1S0;<br>WMT21AG1S0;<br>WLO21EW1S0;<br>WIG21BISS0;<br>WLO21FO1S0;<br>WLO21FO2S0;<br>WLO21FU1S0;<br>WLO21FZ1S0;<br>WIG21GM1S0;<br>WIG21GR1S0;<br>WIG21GG1S0<br>K;240 K;133<br>K;134 K;131 K;128<br>K;127 K;125 K</p></div>
<div class="k c7 ja" style="top:3191px;height:350px"><p><b>Ja(ć)</b><br>WMT21AZ1S0;<br>WMT21LL3S0;<br>WMT21LL2S0;<br>WMT21AS1S0;<br>WMT21AT1S0;<br>WMT21AF1S0;<br>WMT21AC1S0;<br>WME21MC1S0;<br>WME21MN1S0;<br>WME21MT1S0;<br>WMT21AE1S0;<br>WMT21AG1S0;<br>WLO21EW1S0;<br>WTC21CO1S0;<br>WIG21BIDS0;<br>WIG21BJLS0;<br>WIG21BISS0;<br>WLO21FO1S0;<br>WLO21FO2S0;<br>WLO21FU1S0;<br>WLO21FZ1S0;<br>WIG21GM1S0;<br>WIG21GR1S0;<br>WIG21GG1S0<br>K;240 K;133<br>K;134 K;131 K;128<br>K;127 K;125 K</p></div>
<div class="k c8 ja" style="top:3191px;height:350px"><p><b>Ja(ć)</b><br>WMT21AZ1S0;<br>WMT21LL3S0;<br>WMT21LL2S0;<br>WMT21AS1S0;<br>WMT21AT1S0;<br>WMT21AF1S0;<br>WMT21AC1S0;<br>WME21MC1S0;<br>WME21MN1S0;<br>WME21MT1S0;<br>WMT21AE1S0;<br>WMT21AG1S0;<br>WLO21EW1S0;<br>WTC21CO1S0;<br>WIG21BIDS0;<br>WIG21BJLS0;<br>WIG21BISS0;<br>WLO21FO1S0;<br>WLO21FO2S0;<br>WLO21FU1S0;<br>WLO21FZ1S0;<br>WIG21GM1S0;<br>WIG21GR1S0;<br>WIG21GG1S0<br>K;240 K;133<br>K;134 K;131<br>K;128 K;127<br>K;125 K</p></div>
<div class="k c9 ja" style="top:3191px;height:350px"><p><b>Ja(ć)</b><br>WMT21AZ1S0;<br>WMT21LL3S0;<br>WMT21LL2S0;<br>WMT21AS1S0;<br>WMT21AT1S0;<br>WMT21AF1S0;<br>WMT21AC1S0;<br>WME21MC1S0;<br>WME21MN1S0;<br>WME21MT1S0;<br>WMT21AE1S0;<br>WMT21AG1S0;<br>WLO21EW1S0;<br>WTC21CO1S0;<br>WIG21BIDS0;<br>WIG21BJLS0;<br>WIG21BISS0;<br>WLO21FO1S0;<br>WLO21FO2S0;<br>WLO21FU1S0;<br>WLO21FZ1S0;<br>WIG21GM1S0;<br>WIG21GR1S0;<br>WIG21GG1S0<br>K;240 K;133<br>K;134 K;131 K;128<br>K;127 K;125 K</p></div>
<div class="k c11 ja" style="top:3191px;height:350px"><p><b>Ja(ć)</b><br>WMT21AZ1S0;<br>WMT21LL3S0;<br>WMT21LL2S0;<br>WMT21AS1S0;<br>WMT21AT1S0;<br>WMT21AF1S0;<br>WME21MC1S0;<br>WME21MN1S0;<br>WME21MI1S0;<br>WME21MT1S0;<br>WMT21AC1S0;<br>WMT21AE1S0;<br>WMT21AG1S0;<br>WLO21EW1S0;<br>WTC21CO1S0;<br>WIG21BISS0;<br>WIG21BIDS0;<br>WIG21BJLS0;<br>WLO21FO1S0;<br>WLO21FO2S0;<br>WLO21FU1S0;<br>WLO21FZ1S0;<br>WIG21GM1S0;<br>WIG21GR1S0;<br>WIG21GG1S0<br>231 K;240<br>K;134 K;133<br>K;131 K;128<br>K;127 K;125 K</p></div>
<div class="k c12 ja" style="top:3191px;height:350px"><p><b>Ja(ć)</b><br>WMT21AZ1S0;<br>WMT21LL3S0;<br>WMT21LL2S0;<br>WMT21AS1S0;<br>WMT21AT1S0;<br>WMT21AF1S0;<br>WME21MC1S0;<br>WME21MN1S0;<br>WME21MI1S0;<br>WME21MT1S0;<br>WMT21AC1S0;<br>WMT21AE1S0;<br>WMT21AG1S0;<br>WLO21EW1S0;<br>WTC21CO1S0;<br>WIG21BISS0;<br>WIG21BIDS0;<br>WIG21BJLS0;<br>WLO21FO1S0;<br>WLO21FO2S0;<br>WLO21FU1S0;<br>WLO21FZ1S0;<br>WIG21GM1S0;<br>WIG21GR1S0;<br>WIG21GG1S0<br>231 K;240<br>K;134 K;133<br>K;131 K;128<br>K;127 K;125 K</p></div>
<div class="k c13 ja" style="top:3191px;height:350px"><p><b>Ja(ć)</b><br>WMT21AZ1S0;<br>WMT21LL3S0;<br>WMT21LL2S0;<br>WMT21AS1S0;<br>WMT21AT1S0;<br>WMT21AF1S0;<br>WME21MC1S0;<br>WME21MN1S0;<br>WME21MI1S0;<br>WME21MT1S0;<br>WMT21AC1S0;<br>WMT21AE1S0;<br>WMT21AG1S0;<br>WLO21EW1S0;<br>WTC21CO1S0;<br>WIG21BISS0;<br>WIG21BIDS0;<br>WIG21BJLS0;<br>WLO21FO1S0;<br>WLO21FO2S0;<br>WLO21FU1S0;<br>WLO21FZ1S0;<br>WIG21GM1S0;<br>WIG21GR1S0;<br>WIG21GG1S0<br>231 K;240 K;133<br>K;134 K;131 K;128<br>K;127 K;125 K</p></div>
<div class="k c16 ja" style="top:3191px;height:350px"><p><b>Ja(ć)</b><br>WMT21AZ1S0;<br>WMT21LL3S0;<br>WMT21LL2S0;<br>WMT21AS1S0;<br>WMT21AT1S0;<br>WMT21AF1S0;<br>WME21MC1S0;<br>WME21MN1S0;<br>WME21MI1S0;<br>WME21MT1S0;<br>WMT21AC1S0;<br>WMT21AE1S0;<br>WMT21AG1S0;<br>WLO21EW1S0;<br>WTC21CO1S0;<br>WIG21BISS0;<br>WIG21BIDS0;<br>WIG21BJLS0;<br>WLO21FO1S0;<br>WLO21FO2S0;<br>WLO21FU1S0;<br>WLO21FZ1S0;<br>WIG21GM1S0;<br>WIG21GR1S0;<br>WIG21GG1S0<br>231 K;240<br>K;134 K;133<br>K;131 K;128<br>K;127 K;125 K</p></div>
<div class="k c17 ja" style="top:3191px;height:350px"><p><b>Ja(ć)</b><br>WMT21AZ1S0;<br>WMT21LL3S0;<br>WMT21LL2S0;<br>WMT21AS1S0;<br>WMT21AT1S0;<br>WMT21AF1S0;<br>WME21MC1S0;<br>WME21MN1S0;<br>WME21MI1S0;<br>WME21MT1S0;<br>WMT21AC1S0;<br>WMT21AE1S0;<br>WMT21AG1S0;<br>WLO21EW1S0;<br>WTC21CO1S0;<br>WIG21BISS0;<br>WIG21BIDS0;<br>WIG21BJLS0;<br>WLO21FO1S0;<br>WLO21FO2S0;<br>WLO21FU1S0;<br>WLO21FZ1S0;<br>WIG21GM1S0;<br>WIG21GR1S0;<br>WIG21GG1S0<br>231 K;240<br>K;134 K;133<br>K;131 K;128<br>K;127 K;125 K</p></div>
<div class="k c18 ja" style="top:3191px;height:350px"><p><b>Ja(ć)</b><br>WMT21AZ1S0;<br>WMT21LL3S0;<br>WMT21LL2S0;<br>WMT21AS1S0;<br>WMT21AT1S0;<br>WMT21AF1S0;<br>WME21MC1S0;<br>WME21MN1S0;<br>WME21MI1S0;<br>WME21MT1S0;<br>WMT21AC1S0;<br>WMT21AE1S0;<br>WMT21AG1S0;<br>WLO21EW1S0;<br>WTC21CO1S0;<br>WIG21BISS0;<br>WIG21BIDS0;<br>WIG21BJLS0;<br>WLO21FO1S0;<br>WLO21FO2S0;<br>WLO21FU1S0;<br>WLO21FZ1S0;<br>WIG21GM1S0;<br>WIG21GR1S0;<br>WIG21GG1S0<br>231 K;240 K;133<br>K;134 K;131 K;128<br>K;127 K;125 K</p></div>
<div class="k c19 ja" style="top:3191px;height:350px"><p><b>Ja(ć)</b><br>WMT21AZ1S0;<br>WMT21LL3S0;<br>WMT21LL2S0;<br>WMT21AS1S0;<br>WMT21AT1S0;<br>WMT21AF1S0;<br>WME21MC1S0;<br>WME21MN1S0;<br>WME21MI1S0;<br>WME21MT1S0;<br>WMT21AC1S0;<br>WMT21AE1S0;<br>WMT21AG1S0;<br>WLO21EW1S0;<br>WTC21CO1S0;<br>WIG21BISS0;<br>WIG21BIDS0;<br>WIG21BJLS0;<br>WLO21FO1S0;<br>WLO21FO2S0;<br>WLO21FU1S0;<br>WLO21FZ1S0;<br>WIG21GM1S0;<br>WIG21GR1S0;<br>WIG21GG1S0<br>231 K;240<br>K;134 K;133<br>K;131 K;128<br>K;127 K;125 K</p></div>

<div class="k c4 coo" style="top:3541px;height:66px"><p><b>CoO(ć)</b><br>WLO21FO2S0;<br>WLO21FZ1S0<br>Ko.T<br>1.27/ 135</p></div>
<div class="k c7 dsm" style="top:3541px;height:66px"><p><b>DSMPiSwCz(ć)</b><br>WLO21FO2S0<br>Woź.J<br>A.1.3/ 135</p></div>
<div class="k c8 mv" style="top:3541px;height:66px"><p><b>Mv.(ć)</b><br>WLO21FO2S0;<br>WLO21FZ1S0<br>Pap.K<br>0.22/ 16</p></div>
<div class="k c9 mm" style="top:3541px;height:66px"><p><b>MM - ZWSI<br>RON(ć)</b><br>WLO21FO2S0<br>P.Gór<br>1.7/ 16</p></div>
<div class="k c11 wzb" style="top:3541px;height:66px"><p><b>wzbnim(ć)</b><br>WLO21FO2S0<br>MW<br>9/ 158</p></div>
<div class="k c12 wzb" style="top:3541px;height:66px"><p><b>wzbnim(ć)</b><br>WLO21FO2S0<br>MW<br>9/ 158</p></div>
<div class="k c13 wzb" style="top:3541px;height:66px"><p><b>wzbnim(ć)</b><br>WLO21FO2S0<br>MW<br>9/ 158</p></div>

<div class="k c2 wf" style="top:3607px;height:73px"><p><b>WF(ć)</b><br>WLO21FO1S0;<br>WLO21FO2S0;<br>WLO21FU1S0;<br>WLO21FZ1S0<br>PFiedoruk</p></div>
<div class="k c3 wf" style="top:3607px;height:73px"><p><b>WF(ć)</b><br>WLO21FO1S0;<br>WLO21FO2S0;<br>WLO21FU1S0;<br>WLO21FZ1S0<br>PFiedoruk</p></div>
<div class="k c4 wf" style="top:3607px;height:73px"><p><b>WF(ć)</b><br>WLO21FO1S0;<br>WLO21FO2S0;<br>WLO21FU1S0;<br>WLO21FZ1S0<br>PFiedoruk</p></div>
<div class="k c5 wf" style="top:3607px;height:73px"><p><b>WF(ć)</b><br>WLO21FO1S0;<br>WLO21FO2S0;<br>WLO21FU1S0;<br>WLO21FZ1S0<br>PFiedoruk</p></div>
<div class="k c6 wf" style="top:3607px;height:73px"><p><b>WF(ć)</b><br>WLO21FO1S0;<br>WLO21FO2S0;<br>WLO21FU1S0;<br>WLO21FZ1S0<br>PFiedoruk</p></div>
<div class="k c7 wf" style="top:3607px;height:73px"><p><b>WF(ć)</b><br>WLO21FO1S0;<br>WLO21FO2S0;<br>WLO21FU1S0;<br>WLO21FZ1S0<br>PFiedoruk</p></div>
<div class="k c8 wf" style="top:3607px;height:73px"><p><b>WF(ć)</b><br>WLO21FO1S0;<br>WLO21FO2S0;<br>WLO21FU1S0;<br>WLO21FZ1S0<br>PFiedoruk</p></div>
<div class="k c9 wf" style="top:3607px;height:73px"><p><b>WF(ć)</b><br>WLO21FO1S0;<br>WLO21FO2S0;<br>WLO21FU1S0;<br>WLO21FZ1S0<br>PFiedoruk</p></div>
<div class="k c11 wf" style="top:3607px;height:73px"><p><b>WF(ć)</b><br>WLO21FO1S0;<br>WLO21FO2S0;<br>WLO21FU1S0;<br>WLO21FZ1S0<br>RGoławski</p></div>
<div class="k c12 wf" style="top:3607px;height:73px"><p><b>WF(ć)</b><br>WLO21FO1S0;<br>WLO21FO2S0;<br>WLO21FU1S0;<br>WLO21FZ1S0<br>PFiedoruk</p></div>
<div class="k c13 wf" style="top:3607px;height:73px"><p><b>WF(ć)</b><br>WLO21FO1S0;<br>WLO21FO2S0;<br>WLO21FU1S0;<br>WLO21FZ1S0<br>PFiedoruk</p></div>
<div class="k c16 wf" style="top:3607px;height:73px"><p><b>WF(ć)</b><br>WLO21FO1S0;<br>WLO21FO2S0;<br>WLO21FU1S0;<br>WLO21FZ1S0<br>RGoławski</p></div>
<div class="k c17 wf" style="top:3607px;height:73px"><p><b>WF(ć)</b><br>WLO21FO1S0;<br>WLO21FO2S0;<br>WLO21FU1S0;<br>WLO21FZ1S0<br>PFiedoruk</p></div>
<div class="k c18 wf" style="top:3607px;height:73px"><p><b>WF(ć)</b><br>WLO21FO1S0;<br>WLO21FO2S0;<br>WLO21FU1S0;<br>WLO21FZ1S0<br>PFiedoruk</p></div>
<div class="k c19 wf" style="top:3607px;height:73px"><p><b>WF(ć)</b><br>WLO21FO1S0;<br>WLO21FO2S0;<br>WLO21FU1S0;<br>WLO21FZ1S0<br>PFiedoruk</p></div>

<div class="k c6 spu" style="top:3680px;height:67px"><p><b>Spulo(ć)</b><br>WLO21FO2S0;<br>WLO21FZ1S0<br>So.I<br>5.17/ 135</p></div>
<div class="k c7 spu" style="top:3680px;height:67px"><p><b>Spulo(ć)</b><br>WLO21FO2S0;<br>WLO21FZ1S0<br>So.I<br>1.27/ 135</p></div>
<div class="k c8 wzz" style="top:3680px;height:67px"><p><b>WzzD(ć)</b><br>WLO21FO2S0;<br>WLO21FZ1S0<br>Mich.B<br>1.15/ 16</p></div>
<div class="k c9 mm" style="top:3680px;height:67px"><p><b>MM - ZWSI<br>RON(ć)</b><br>WLO21FO2S0<br>P.Gór<br>1.7/ 16</p></div>
<div class="k c11 wzz" style="top:3680px;height:67px"><p><b>WzzD(L)</b><br>WLO21FO2S0;<br>WLO21FZ1S0<br>Mich.B; Wiś.A<br>14/ 23a</p></div>
<div class="k c13 coo" style="top:3680px;height:67px"><p><b>CoO(ć)</b><br>WLO21FO2S0;<br>WLO21FZ1S0<br>Ko.T<br>1.27/ 135</p></div>

<div class="k c7 mv" style="top:3747px;height:278px"><p><b>Mv.(ć)</b><br>WLO21FO2S0;<br>WLO21FZ1S0<br>Pap.K<br>A.1.3/ 135</p></div>
<div class="k c8 wzz" style="top:3747px;height:278px"><p><b>WzzD(L)</b><br>WLO21FO2S0;<br>WLO21FZ1S0<br>Mich.B; Wiś.A<br>14/ 23a</p></div>
<div class="k c9 mv" style="top:3747px;height:278px"><p><b>Mv.(ć)</b><br>WLO21FO2S0;<br>WLO21FZ1S0<br>Pap.K<br>0.22/ 16</p></div>
<div class="k c16 ja" style="top:3747px;height:278px"><p><b>Ja(ć)</b><br>WCY21KS1S0;<br>WCY21KE1S0;<br>WCY21KC2S0;<br>WCY21KX2S0;<br>WCY21KX1S0;<br>WCY21IL1S0;<br>WCY21KC1S0;<br>WCY21IT1S0;<br>WCY21IW1S0;<br>WMT21AF1S0;<br>WLO21EW1S0;<br>WMT21AZ1S0;<br>WMT21LL3S0;<br>WMT21LL2S0;<br>WMT21LL1S0;<br>WMT21AS1S0;<br>WMT21AT1S0;<br>WMT21AE1S0;<br>WMT21AG1S0;<br>WLO21FO1S0;<br>WLO21FO2S0;<br>WLO21FU1S0;<br>WLO21FZ1S0;<br>WIG21CR1S0</p></div>
<div class="k c17 ja" style="top:3747px;height:278px"><p><b>Ja(ć)</b><br>WCY21KS1S0;<br>WCY21KE1S0;<br>WCY21KC2S0;<br>WCY21KX2S0;<br>WCY21KX1S0;<br>WCY21IL1S0;<br>WCY21KC1S0;<br>WCY21IT1S0;<br>WCY21IW1S0;<br>WMT21AF1S0;<br>WLO21EW1S0;<br>WMT21AZ1S0;<br>WMT21LL3S0;<br>WMT21LL2S0;<br>WMT21LL1S0;<br>WMT21AS1S0;<br>WMT21AT1S0;<br>WMT21AE1S0;<br>WMT21AG1S0;<br>WLO21FO1S0;<br>WLO21FO2S0;<br>WLO21FU1S0;<br>WLO21FZ1S0;<br>WIG21CR1S0</p></div>

<div class="k c9 coo" style="top:4025px;height:283px"><p><b>CoO(ć)</b><br>WLO21FO2S0;<br>WLO21FZ1S0<br>Ko.T<br>4.23/ 135</p></div>
<div class="k c16 ja" style="top:4025px;height:283px"><p><b>Ja(ć)</b><br>WCY21KS1S0;<br>WCY21KE1S0;<br>WCY21KC2S0;<br>WCY21KX2S0;<br>WCY21KX1S0;<br>WCY21IL1S0;<br>WCY21KC1S0;<br>WCY21IT1S0;<br>WCY21IW1S0;<br>WMT21AF1S0;<br>WLO21EW1S0;<br>WMT21AZ1S0;<br>WMT21LL3S0;<br>WMT21LL2S0;<br>WMT21LL1S0;<br>WMT21AS1S0;<br>WMT21AT1S0;<br>WMT21AE1S0;<br>WMT21AG1S0;<br>WLO21FO1S0;<br>WLO21FO2S0;<br>WLO21FU1S0;<br>WLO21FZ1S0;<br>WIG21GR1S0</p></div>

<!-- ===== SOB ===== -->
<div class="k c2 xwf" style="top:4399px;height:76px"><p><b>XWF(ć)</b><br>WLO21FO1S0;<br>WLO21FO2S0;<br>WLO21FU1S0;<br>WLO21FZ1S0</p></div>
<div class="k c3 xwf" style="top:4399px;height:76px"><p><b>XWF(ć)</b><br>WLO21FO1S0;<br>WLO21FO2S0;<br>WLO21FU1S0;<br>WLO21FZ1S0</p></div>
<div class="k c4 xwf" style="top:4399px;height:76px"><p><b>XWF(ć)</b><br>WLO21FO1S0;<br>WLO21FO2S0;<br>WLO21FU1S0;<br>WLO21FZ1S0</p></div>
<div class="k c5 xwf" style="top:4399px;height:76px"><p><b>XWF(ć)</b><br>WLO21FO1S0;<br>WLO21FO2S0;<br>WLO21FU1S0;<br>WLO21FZ1S0</p></div>
<div class="k c7 xwf" style="top:4399px;height:76px"><p><b>XWF(ć)</b><br>WLO21FO1S0;<br>WLO21FO2S0;<br>WLO21FU1S0;<br>WLO21FZ1S0</p></div>
<div class="k c8 xwf" style="top:4399px;height:76px"><p><b>XWF(ć)</b><br>WLO21FO1S0;<br>WLO21FO2S0;<br>WLO21FU1S0;<br>WLO21FZ1S0</p></div>
<div class="k c9 xwf" style="top:4399px;height:76px"><p><b>XWF(ć)</b><br>WLO21FO1S0;<br>WLO21FO2S0;<br>WLO21FU1S0;<br>WLO21FZ1S0</p></div>
<div class="k c10 xwf" style="top:4399px;height:76px"><p><b>XWF(ć)</b><br>WLO21FO1S0;<br>WLO21FO2S0;<br>WLO21FU1S0;<br>WLO21FZ1S0</p></div>
<div class="k c11 xwf" style="top:4399px;height:76px"><p><b>XWF(ć)</b><br>WLO21FO1S0;<br>WLO21FO2S0;<br>WLO21FU1S0;<br>WLO21FZ1S0</p></div>
<div class="k c12 xwf" style="top:4399px;height:76px"><p><b>XWF(ć)</b><br>WLO21FO1S0;<br>WLO21FO2S0;<br>WLO21FU1S0;<br>WLO21FZ1S0</p></div>
<div class="k c13 xwf" style="top:4399px;height:76px"><p><b>XWF(ć)</b><br>WLO21FO1S0;<br>WLO21FO2S0;<br>WLO21FU1S0;<br>WLO21FZ1S0</p></div>
<div class="k c16 xwf" style="top:4399px;height:76px"><p><b>XWF(ć)</b><br>WLO21FO1S0;<br>WLO21FO2S0;<br>WLO21FU1S0;<br>WLO21FZ1S0</p></div>
<div class="k c17 xwf" style="top:4399px;height:76px"><p><b>XWF(ć)</b><br>WLO21FO1S0;<br>WLO21FO2S0;<br>WLO21FU1S0;<br>WLO21FZ1S0</p></div>
<div class="k c18 xwf" style="top:4399px;height:76px"><p><b>XWF(ć)</b><br>WLO21FO1S0;<br>WLO21FO2S0;<br>WLO21FU1S0;<br>WLO21FZ1S0</p></div>
<div class="k c19 xwf" style="top:4399px;height:76px"><p><b>XWF(ć)</b><br>WLO21FO1S0;<br>WLO21FO2S0;<br>WLO21FU1S0;<br>WLO21FZ1S0</p></div>

<!-- ===== LEGEND ===== -->
<div class="la adw" style="top:22px;height:45px">Adwl</div><div class="ld b" style="top:22px;height:45px">Analiza danych w logistyce</div>
<div class="la" style="top:67px;height:161px">Ep 2</div><div class="ld" style="top:67px;height:161px">dr Kurkowiak Justyna</div>
<div class="la bie" style="top:228px;height:144px">BiESW</div><div class="ld b" style="top:228px;height:144px">Budowa i eksploatacja sprzętu wojskowego</div>
<div class="la" style="top:372px;height:149px">w 4</div><div class="ld" style="top:372px;height:149px">ppłk dr inż. Leśnik Grzegorz</div>
<div class="la" style="top:521px;height:96px">w 6</div><div class="ld" style="top:521px;height:96px">ppłk dr inż. Semil Łukasz</div>
<div class="la" style="top:617px;height:139px">ć 2</div><div class="ld" style="top:617px;height:139px">kpt. mgr inż. Kozdrój Dawid</div>
<div class="la" style="top:756px;height:34px">ć 2</div><div class="ld" style="top:756px;height:34px">ppłk dr inż. Leśnik Grzegorz</div>
<div class="la" style="top:790px;height:31px">ć 4</div><div class="ld" style="top:790px;height:31px">ppłk dr inż. Semil Łukasz</div>
<div class="la" style="top:821px;height:37px">L 10</div><div class="ld" style="top:821px;height:37px">dr inż. Szupiluk Damian</div>
<div class="la" style="top:858px;height:85px">L 10</div><div class="ld" style="top:858px;height:85px">kpt. mgr inż. Murawski Mateusz</div>
<div class="la" style="top:943px;height:93px">L 10</div><div class="ld" style="top:943px;height:93px">ppłk dr inż. Leśnik Grzegorz</div>
<div class="la" style="top:1036px;height:74px">L 10</div><div class="ld" style="top:1036px;height:74px">ppłk dr inż. Semil Łukasz</div>
<div class="la" style="top:1110px;height:84px">S 2</div><div class="ld" style="top:1110px;height:84px">płk dr inż. Zator Mirosław</div>
<div class="la coo" style="top:1194px;height:348px">CoO</div><div class="ld b" style="top:1194px;height:348px">Controlling Operacyjny</div>
<div class="la" style="top:1542px;height:316px">w 10</div><div class="ld" style="top:1542px;height:316px">dr n.ekon. inż. Kochański Tomasz</div>
<div class="la" style="top:1858px;height:30px">ć 18</div><div class="ld" style="top:1858px;height:30px">dr n.ekon. inż. Kochański Tomasz</div>
<div class="la dpl" style="top:1888px;height:61px">Dpl</div><div class="ld b" style="top:1888px;height:61px">Dowodzenie pododdziałem logistycznym</div>
<div class="la" style="top:1949px;height:95px">w 20</div><div class="ld" style="top:1949px;height:95px">prof. dr hab. Pawlisiak Mieczysław</div>
<div class="la" style="top:2044px;height:95px">ć 16</div><div class="ld" style="top:2044px;height:95px">dr Gulej Mariusz</div>
<div class="la" style="top:2139px;height:96px">S 4</div><div class="ld" style="top:2139px;height:96px">dr Gulej Mariusz</div>
<div class="la dsm" style="top:2235px;height:100px">DSMPiSwCz</div><div class="ld b" style="top:2235px;height:100px;font-size:8px;line-height:9px">Działalność służby materiałów pędnych i smarów w czasie pokoju, kryzysu i wojny na szczeblu taktycznym</div>
<div class="la" style="top:2335px;height:88px">w 16</div><div class="ld" style="top:2335px;height:88px">dr Woźniak Jacek, prof. WAT</div>
<div class="la" style="top:2423px;height:36px">ć 16</div><div class="ld" style="top:2423px;height:36px">dr Woźniak Jacek, prof. WAT</div>
<div class="la" style="top:2459px;height:37px">S 4</div><div class="ld" style="top:2459px;height:37px">dr Woźniak Jacek, prof. WAT</div>
<div class="la dsk" style="top:2496px;height:91px">DSMwPKW</div><div class="ld b" style="top:2496px;height:91px;font-size:8px;line-height:9px">Działalność służby mundurowej w czasie pokoju, kryzysu i wojny na szczeblu taktycznym</div>
<div class="la" style="top:2587px;height:83px">w 12</div><div class="ld" style="top:2587px;height:83px">mgr Dembek Adam</div>
<div class="la" style="top:2670px;height:95px">ć 14</div><div class="ld" style="top:2670px;height:95px">mgr Dembek Adam</div>
<div class="la" style="top:2765px;height:184px">S 4</div><div class="ld" style="top:2765px;height:184px">mgr Dembek Adam</div>
<div class="la dsz" style="top:2949px;height:89px;font-size:8px">DSŻwCPKiWnST</div><div class="ld b" style="top:2949px;height:89px;font-size:8px;line-height:9px">Działalność służby żywnościowej w czasie pokoju, kryzysu i wojny na szczeblu taktycznym</div>
<div class="la" style="top:3038px;height:60px">Ep 2</div><div class="ld" style="top:3038px;height:60px">dr Spychała Dariusz</div>
<div class="la ja" style="top:3098px;height:30px">Ja</div><div class="ld b" style="top:3098px;height:30px">Język angielski</div>
<div class="la" style="top:3128px;height:28px">ć 60</div>
<div class="la mv" style="top:3156px;height:35px">Mv.</div><div class="ld b" style="top:3156px;height:35px">Military vehicles</div>
<div class="la" style="top:3191px;height:350px">w 14</div><div class="ld" style="top:3191px;height:350px">dr inż. Papliński Krzysztof</div>
<div class="la" style="top:3541px;height:66px">ć 16</div><div class="ld" style="top:3541px;height:66px">dr inż. Papliński Krzysztof</div>
<div class="la mm" style="top:3607px;height:73px;font-size:8px">MM - ZWSI RON</div><div class="ld b" style="top:3607px;height:73px;font-size:8px;line-height:9px">Model materiałowy (MM) - ZWSI RON</div>
<div class="la" style="top:3680px;height:67px">w 4</div><div class="ld" style="top:3680px;height:67px">płk mgr inż. Górski Piotr</div>
<div class="la" style="top:3747px;height:278px">ć 14</div><div class="ld" style="top:3747px;height:278px">płk mgr inż. Górski Piotr</div>
<div class="la" style="top:4025px;height:283px">S 2</div><div class="ld" style="top:4025px;height:283px">płk mgr inż. Górski Piotr</div>
<div class="la reg" style="top:4308px;height:34px">REG</div><div class="ld b" style="top:4308px;height:34px">Regulaminy SZ RP</div>
<div class="la" style="top:4342px;height:28px">w 2</div><div class="ld" style="top:4342px;height:28px">ppłk inż. Igicki Paweł</div>
<div class="la" style="top:4370px;height:29px">ć 4</div><div class="ld" style="top:4370px;height:29px">ppłk inż. Igicki Paweł</div>
<div class="la szr" style="top:4399px;height:76px">SZR</div><div class="ld b" style="top:4399px;height:76px;font-size:8px;line-height:9px">Siły zbrojne Rzeczypospolitej w realizacji zadań państwa gospodarza</div>
<div class="la" style="top:4475px;height:28px">w 6</div><div class="ld" style="top:4475px;height:28px">dr inż. Woźniak Robert</div>
<div class="la" style="top:4503px;height:29px">ć 2</div><div class="ld" style="top:4503px;height:29px">dr inż. Woźniak Robert</div>
<div class="la" style="top:4532px;height:28px">S 2</div><div class="ld" style="top:4532px;height:28px">dr inż. Woźniak Robert</div>
<div class="la spu" style="top:4560px;height:45px">Spulo</div><div class="ld b" style="top:4560px;height:45px">Specjalistyczne usługi logistyczne</div>
<div class="la" style="top:4605px;height:28px">w 20</div><div class="ld" style="top:4605px;height:28px">dr Sobczak Iwona</div>
<div class="la" style="top:4633px;height:28px">ć 10</div><div class="ld" style="top:4633px;height:28px">dr Sobczak Iwona</div>
<div class="la szs" style="top:4661px;height:46px">SzS</div><div class="ld b" style="top:4661px;height:46px">Szkolenie strzeleckie</div>
<div class="la" style="top:4707px;height:24px">ć 12</div>
<div class="la dgb" style="top:4731px;height:44px">DGB</div><div class="ld b" style="top:4731px;height:44px">Szkolenie wojskowe - DGB</div>
<div class="la" style="top:4775px;height:26px">ć 16</div>
<div class="la ta" style="top:4801px;height:33px">TA</div><div class="ld b" style="top:4801px;height:33px">TAKTYKA</div>
<div class="la" style="top:4834px;height:38px">w 4</div><div class="ld" style="top:4834px;height:38px">ppłk rez. mgr Czarnecki Jarosław</div>
<div class="la" style="top:4872px;height:37px">ć 4</div><div class="ld" style="top:4872px;height:37px">ppłk rez. mgr Czarnecki Jarosław</div>
<div class="la" style="top:4909px;height:37px;background:#fff">S 2</div><div class="ld" style="top:4909px;height:37px;background:#fff">ppłk rez. mgr Czarnecki Jarosław</div>
<div class="la wzb" style="top:4946px;height:78px">wzbnim</div><div class="ld b" style="top:4946px;height:78px;background:#fff">Wybrane zagadnienia bezpieczeństwa narodowego i międzynarodowego</div>
<div class="la" style="top:5024px;height:38px;background:#fff">w 8</div><div class="ld" style="top:5024px;height:38px;background:#fff">mjr dr inż. Walkowiak Marzena</div>
<div class="la" style="top:5062px;height:36px;background:#fff">ć 8</div><div class="ld" style="top:5062px;height:36px;background:#fff">mjr dr inż. Walkowiak Marzena</div>
<div class="la wzz" style="top:5098px;height:67px">WzzD</div><div class="ld b" style="top:5098px;height:67px;background:#fff">Wybrane zagadnienia z dynamiki środków transportowych</div>
<div class="la" style="top:5165px;height:37px;background:#fff">w 16</div><div class="ld" style="top:5165px;height:37px;background:#fff">ppłk dr inż. Hryciów Zdzisław</div>
<div class="la" style="top:5202px;height:37px;background:#fff">ć 10</div><div class="ld" style="top:5202px;height:37px;background:#fff">mgr inż. Michałowski Bogusław</div>
<div class="la" style="top:5239px;height:37px;background:#fff">L 8</div><div class="ld" style="top:5239px;height:37px;background:#fff">dr inż. Wiśniewski Andrzej</div>
<div class="la" style="top:5276px;height:37px;background:#fff">L 8</div><div class="ld" style="top:5276px;height:37px;background:#fff">mgr inż. Michałowski Bogusław</div>
<div class="la wf" style="top:5313px;height:45px">WF</div><div class="ld b" style="top:5313px;height:45px;background:#fff">Wychowanie fizyczne</div>
<div class="la" style="top:5358px;height:14px;background:#fff">w 2</div>
<div class="la" style="top:5372px;height:28px;background:#fff">ć 58</div><div class="ld" style="top:5372px;height:28px;background:#fff">mgr Fiedoruk Piotr</div>
<div class="la" style="top:5400px;height:29px;background:#fff">ć 18</div><div class="ld" style="top:5400px;height:29px;background:#fff">mgr Pawłowski Rafał</div>
<div class="la" style="top:5429px;height:37px;background:#fff">ć 4</div><div class="ld" style="top:5429px;height:37px;background:#fff">ppłk mgr inż. Goławski Rafał</div>
<div class="la xwf" style="top:5466px;height:44px">XWF</div><div class="ld b" style="top:5466px;height:44px;background:#fff">XWychowanie fizyczne</div>
<div class="la" style="top:5510px;height:15px;background:#fff">ć 30</div>
<div class="la zz" style="top:5525px;height:45px">ZŻWAT</div><div class="ld b" style="top:5525px;height:45px;background:#fff">Zbiórka żołnierzy WAT</div>
<div class="la" style="top:5570px;height:13px;font-size:9px;background:#fff">ć 2</div>
<div class="la" style="top:5583px;height:14px;font-size:9px;background:#fff">i 6</div>

<!-- footer -->
<div style="left:8px;top:5601px;font-size:8px;line-height:10px;color:#333;white-space:nowrap">Data aktualizacji: 10.10.2025 14:29:30</div>
<div style="left:8px;top:5624px;width:1264px;height:1px;background:#aaa"></div>
<div style="left:8px;top:5640px;font-size:8px;line-height:10px;color:#333;white-space:nowrap">Dokument został utworzony za pomocą programu <span style="color:#00e;text-decoration:underline">Plansoft.org</span></div>

</div></body></html>
